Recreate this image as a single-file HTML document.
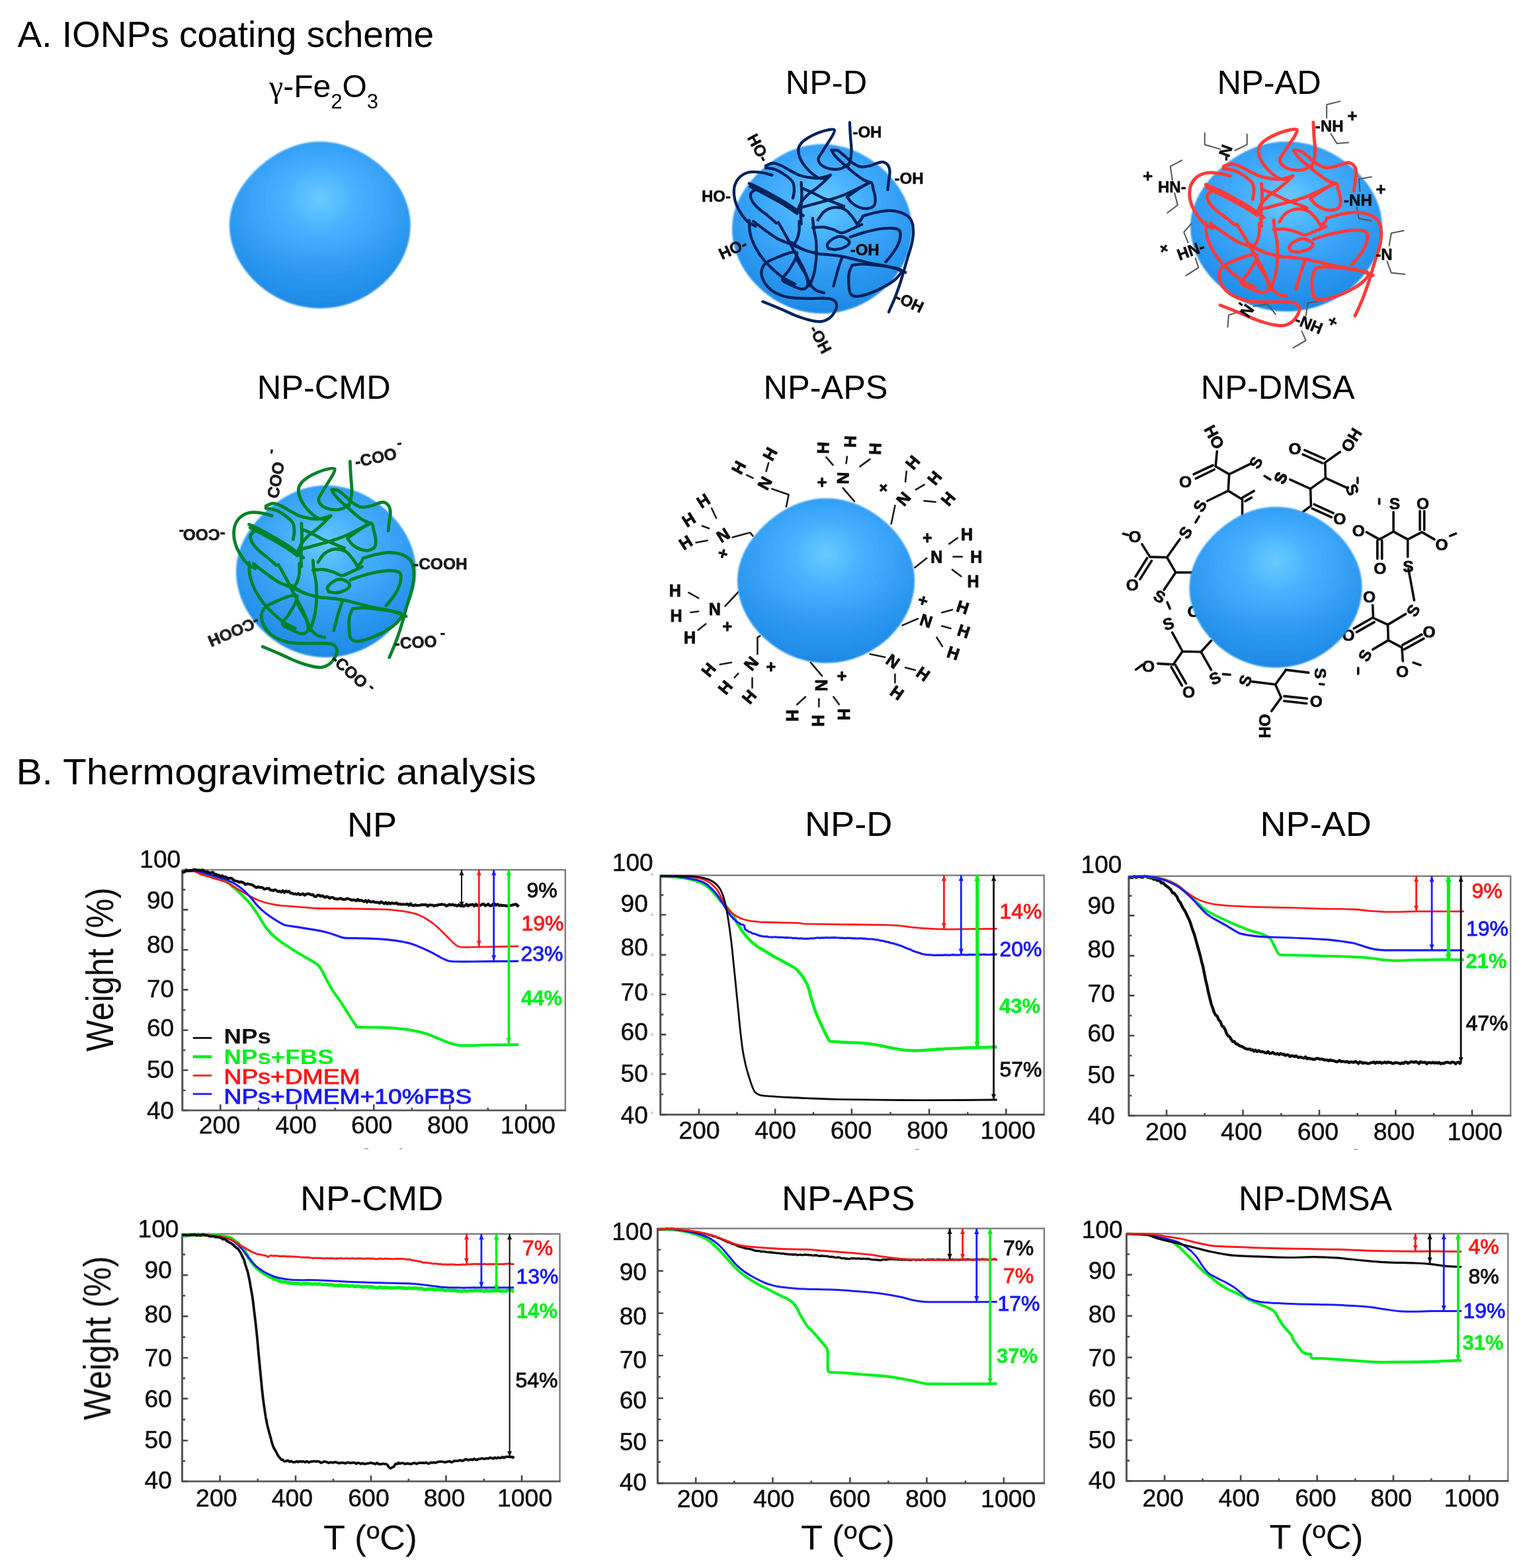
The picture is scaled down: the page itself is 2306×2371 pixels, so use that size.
<!DOCTYPE html>
<html lang="en"><head><meta charset="utf-8"><title>IONPs coating scheme and thermogravimetric analysis</title>
<style>html,body{margin:0;padding:0;background:#fff}svg{display:block}text{white-space:pre}</style></head><body>
<svg width="2306" height="2371" viewBox="0 0 2306 2371" font-family="'Liberation Sans', sans-serif">
<rect width="2306" height="2371" fill="#fff"/>
<defs>
<radialGradient id="sg" cx="0.5" cy="0.36" r="0.62" fx="0.5" fy="0.34">
<stop offset="0" stop-color="#6acbff"/><stop offset="0.28" stop-color="#4ab4ff"/><stop offset="0.6" stop-color="#38a3f8"/><stop offset="1" stop-color="#2390ea"/>
</radialGradient>
<linearGradient id="sl" x1="0" y1="0" x2="0" y2="1">
<stop offset="0" stop-color="#1f8fee" stop-opacity="0.3"/><stop offset="0.22" stop-color="#2a9cf5" stop-opacity="0"/><stop offset="0.55" stop-color="#1e86e0" stop-opacity="0"/><stop offset="0.75" stop-color="#1a84e2" stop-opacity="0.18"/><stop offset="1" stop-color="#1580dc" stop-opacity="0.32"/>
</linearGradient>
<filter id="b1" x="-10%" y="-10%" width="120%" height="120%"><feGaussianBlur stdDeviation="0.8"/></filter>
<filter id="b2" x="-15%" y="-30%" width="130%" height="160%"><feGaussianBlur stdDeviation="0.6"/></filter>
</defs>
<g fill="#000" font-family="'Liberation Sans', sans-serif">
<text x="26.5" y="70.6" font-size="55">A. IONPs coating scheme</text>
<text x="407" y="147" font-size="48"><tspan font-family="'Liberation Serif', serif">γ</tspan>-Fe<tspan font-size="31" dy="16.5">2</tspan><tspan dy="-16.5">O</tspan><tspan font-size="31" dy="16.5">3</tspan></text>
<text x="1187.7" y="142" font-size="50.5">NP-D</text>
<text x="1840.5" y="142" font-size="50.5">NP-AD</text>
<text x="388.8" y="603" font-size="50.5">NP-CMD</text>
<text x="1154.5" y="603" font-size="50.5">NP-APS</text>
<text x="1815.8" y="603" font-size="50.5">NP-DMSA</text>
</g>
<g filter="url(#b1)"><path d="M620.7 340.3L620.4 348.5L619.4 356.7L617.9 364.8L615.7 372.8L613 380.7L609.6 388.3L605.8 395.7L601.5 402.8L596.7 409.7L591.4 416.3L585.7 422.6L579.6 428.5L573.2 434.1L566.4 439.3L559.2 444.2L551.7 448.6L544 452.6L535.9 456.1L527.6 459.2L519.1 461.7L510.5 463.7L501.7 465.1L492.8 466L483.8 466.3L474.8 466L465.9 465.1L457.1 463.6L448.5 461.6L440 459L431.8 455.9L423.8 452.3L416.1 448.3L408.7 443.8L401.5 439L394.8 433.7L388.4 428.1L382.3 422.2L376.6 416L371.3 409.5L366.5 402.6L362.1 395.5L358.2 388.2L354.8 380.6L352 372.8L349.8 364.8L348.2 356.7L347.2 348.5L346.9 340.3L347.3 332.1L348.4 323.9L350.2 315.8L352.6 307.9L355.7 300.3L359.3 292.9L363.5 285.7L368.1 278.8L373.1 272.2L378.4 265.9L384.1 259.8L390.1 254.1L396.4 248.5L402.9 243.3L409.8 238.4L417 233.8L424.5 229.6L432.2 225.8L440.3 222.4L448.7 219.6L457.2 217.3L466 215.6L474.9 214.6L483.8 214.3L492.8 214.6L501.6 215.6L510.4 217.1L519 219.3L527.4 222L535.6 225.2L543.5 228.9L551.1 233L558.4 237.5L565.4 242.4L572.1 247.6L578.5 253.2L584.5 259L590.2 265.2L595.5 271.6L600.4 278.3L604.9 285.3L608.9 292.6L612.4 300.1L615.3 307.9L617.6 315.8L619.3 323.9L620.4 332.1Z" fill="url(#sg)"/><path d="M620.7 340.3L620.4 348.5L619.4 356.7L617.9 364.8L615.7 372.8L613 380.7L609.6 388.3L605.8 395.7L601.5 402.8L596.7 409.7L591.4 416.3L585.7 422.6L579.6 428.5L573.2 434.1L566.4 439.3L559.2 444.2L551.7 448.6L544 452.6L535.9 456.1L527.6 459.2L519.1 461.7L510.5 463.7L501.7 465.1L492.8 466L483.8 466.3L474.8 466L465.9 465.1L457.1 463.6L448.5 461.6L440 459L431.8 455.9L423.8 452.3L416.1 448.3L408.7 443.8L401.5 439L394.8 433.7L388.4 428.1L382.3 422.2L376.6 416L371.3 409.5L366.5 402.6L362.1 395.5L358.2 388.2L354.8 380.6L352 372.8L349.8 364.8L348.2 356.7L347.2 348.5L346.9 340.3L347.3 332.1L348.4 323.9L350.2 315.8L352.6 307.9L355.7 300.3L359.3 292.9L363.5 285.7L368.1 278.8L373.1 272.2L378.4 265.9L384.1 259.8L390.1 254.1L396.4 248.5L402.9 243.3L409.8 238.4L417 233.8L424.5 229.6L432.2 225.8L440.3 222.4L448.7 219.6L457.2 217.3L466 215.6L474.9 214.6L483.8 214.3L492.8 214.6L501.6 215.6L510.4 217.1L519 219.3L527.4 222L535.6 225.2L543.5 228.9L551.1 233L558.4 237.5L565.4 242.4L572.1 247.6L578.5 253.2L584.5 259L590.2 265.2L595.5 271.6L600.4 278.3L604.9 285.3L608.9 292.6L612.4 300.1L615.3 307.9L617.6 315.8L619.3 323.9L620.4 332.1Z" fill="url(#sl)"/></g>
<g filter="url(#b1)"><path d="M1379 346L1378.7 354.4L1377.7 362.7L1376.2 370.9L1374 379L1371.3 387L1368 394.7L1364.2 402.3L1359.9 409.5L1355.1 416.5L1349.9 423.2L1344.2 429.6L1338.2 435.6L1331.8 441.3L1325 446.6L1317.9 451.5L1310.5 456L1302.8 460.1L1294.8 463.7L1286.6 466.8L1278.1 469.3L1269.5 471.4L1260.7 472.8L1251.9 473.7L1243 474L1234.1 473.7L1225.3 472.8L1216.5 471.3L1207.9 469.2L1199.5 466.6L1191.3 463.4L1183.4 459.8L1175.7 455.7L1168.3 451.2L1161.3 446.2L1154.6 440.9L1148.2 435.2L1142.2 429.2L1136.5 422.9L1131.3 416.3L1126.5 409.3L1122.1 402.1L1118.2 394.6L1114.9 386.9L1112.1 379L1109.9 370.9L1108.3 362.7L1107.3 354.4L1107 346L1107.4 337.6L1108.5 329.3L1110.2 321.1L1112.7 313.1L1115.7 305.3L1119.4 297.8L1123.5 290.5L1128 283.5L1133 276.8L1138.3 270.4L1144 264.3L1149.9 258.4L1156.1 252.8L1162.7 247.5L1169.5 242.5L1176.6 237.8L1184.1 233.5L1191.8 229.6L1199.8 226.2L1208.1 223.4L1216.6 221L1225.3 219.4L1234.1 218.3L1243 218L1251.9 218.3L1260.7 219.3L1269.4 220.9L1278 223L1286.4 225.8L1294.5 229L1302.3 232.8L1309.9 237L1317.1 241.6L1324.1 246.5L1330.7 251.8L1337.1 257.5L1343 263.4L1348.7 269.7L1354 276.2L1358.8 283.1L1363.3 290.2L1367.3 297.6L1370.7 305.2L1373.6 313.1L1376 321.1L1377.6 329.3L1378.7 337.6Z" fill="url(#sg)"/><path d="M1379 346L1378.7 354.4L1377.7 362.7L1376.2 370.9L1374 379L1371.3 387L1368 394.7L1364.2 402.3L1359.9 409.5L1355.1 416.5L1349.9 423.2L1344.2 429.6L1338.2 435.6L1331.8 441.3L1325 446.6L1317.9 451.5L1310.5 456L1302.8 460.1L1294.8 463.7L1286.6 466.8L1278.1 469.3L1269.5 471.4L1260.7 472.8L1251.9 473.7L1243 474L1234.1 473.7L1225.3 472.8L1216.5 471.3L1207.9 469.2L1199.5 466.6L1191.3 463.4L1183.4 459.8L1175.7 455.7L1168.3 451.2L1161.3 446.2L1154.6 440.9L1148.2 435.2L1142.2 429.2L1136.5 422.9L1131.3 416.3L1126.5 409.3L1122.1 402.1L1118.2 394.6L1114.9 386.9L1112.1 379L1109.9 370.9L1108.3 362.7L1107.3 354.4L1107 346L1107.4 337.6L1108.5 329.3L1110.2 321.1L1112.7 313.1L1115.7 305.3L1119.4 297.8L1123.5 290.5L1128 283.5L1133 276.8L1138.3 270.4L1144 264.3L1149.9 258.4L1156.1 252.8L1162.7 247.5L1169.5 242.5L1176.6 237.8L1184.1 233.5L1191.8 229.6L1199.8 226.2L1208.1 223.4L1216.6 221L1225.3 219.4L1234.1 218.3L1243 218L1251.9 218.3L1260.7 219.3L1269.4 220.9L1278 223L1286.4 225.8L1294.5 229L1302.3 232.8L1309.9 237L1317.1 241.6L1324.1 246.5L1330.7 251.8L1337.1 257.5L1343 263.4L1348.7 269.7L1354 276.2L1358.8 283.1L1363.3 290.2L1367.3 297.6L1370.7 305.2L1373.6 313.1L1376 321.1L1377.6 329.3L1378.7 337.6Z" fill="url(#sl)"/></g>
<g filter="url(#b1)"><path d="M2090 342.5L2089.7 350.9L2088.7 359.3L2087 367.5L2084.7 375.7L2081.8 383.7L2078.3 391.4L2074.2 399L2069.6 406.3L2064.5 413.3L2059 420L2052.9 426.4L2046.5 432.5L2039.7 438.2L2032.4 443.5L2024.9 448.4L2017 452.9L2008.7 457L2000.2 460.6L1991.4 463.7L1982.4 466.3L1973.2 468.3L1963.9 469.8L1954.5 470.7L1945 471L1935.5 470.7L1926.1 469.8L1916.8 468.3L1907.6 466.2L1898.6 463.5L1889.9 460.4L1881.4 456.7L1873.3 452.6L1865.4 448.1L1857.9 443.1L1850.7 437.8L1843.9 432.1L1837.5 426.1L1831.5 419.7L1825.9 413L1820.7 406.1L1816.1 398.8L1812 391.3L1808.4 383.6L1805.4 375.6L1803.1 367.5L1801.4 359.3L1800.3 350.9L1800 342.5L1800.4 334.1L1801.5 325.8L1803.5 317.5L1806.1 309.5L1809.3 301.7L1813.2 294.1L1817.6 286.8L1822.4 279.8L1827.7 273.1L1833.4 266.6L1839.4 260.4L1845.8 254.5L1852.4 248.9L1859.4 243.6L1866.6 238.6L1874.2 233.9L1882.2 229.6L1890.4 225.7L1898.9 222.3L1907.8 219.4L1916.8 217.1L1926.1 215.4L1935.5 214.3L1945 214L1954.5 214.3L1963.9 215.3L1973.2 216.9L1982.3 219.1L1991.2 221.8L1999.9 225.1L2008.2 228.8L2016.3 233.1L2024 237.7L2031.5 242.6L2038.5 248L2045.3 253.6L2051.7 259.6L2057.7 265.9L2063.3 272.4L2068.5 279.3L2073.2 286.5L2077.5 293.9L2081.2 301.5L2084.3 309.4L2086.8 317.5L2088.5 325.8L2089.6 334.1Z" fill="url(#sg)"/><path d="M2090 342.5L2089.7 350.9L2088.7 359.3L2087 367.5L2084.7 375.7L2081.8 383.7L2078.3 391.4L2074.2 399L2069.6 406.3L2064.5 413.3L2059 420L2052.9 426.4L2046.5 432.5L2039.7 438.2L2032.4 443.5L2024.9 448.4L2017 452.9L2008.7 457L2000.2 460.6L1991.4 463.7L1982.4 466.3L1973.2 468.3L1963.9 469.8L1954.5 470.7L1945 471L1935.5 470.7L1926.1 469.8L1916.8 468.3L1907.6 466.2L1898.6 463.5L1889.9 460.4L1881.4 456.7L1873.3 452.6L1865.4 448.1L1857.9 443.1L1850.7 437.8L1843.9 432.1L1837.5 426.1L1831.5 419.7L1825.9 413L1820.7 406.1L1816.1 398.8L1812 391.3L1808.4 383.6L1805.4 375.6L1803.1 367.5L1801.4 359.3L1800.3 350.9L1800 342.5L1800.4 334.1L1801.5 325.8L1803.5 317.5L1806.1 309.5L1809.3 301.7L1813.2 294.1L1817.6 286.8L1822.4 279.8L1827.7 273.1L1833.4 266.6L1839.4 260.4L1845.8 254.5L1852.4 248.9L1859.4 243.6L1866.6 238.6L1874.2 233.9L1882.2 229.6L1890.4 225.7L1898.9 222.3L1907.8 219.4L1916.8 217.1L1926.1 215.4L1935.5 214.3L1945 214L1954.5 214.3L1963.9 215.3L1973.2 216.9L1982.3 219.1L1991.2 221.8L1999.9 225.1L2008.2 228.8L2016.3 233.1L2024 237.7L2031.5 242.6L2038.5 248L2045.3 253.6L2051.7 259.6L2057.7 265.9L2063.3 272.4L2068.5 279.3L2073.2 286.5L2077.5 293.9L2081.2 301.5L2084.3 309.4L2086.8 317.5L2088.5 325.8L2089.6 334.1Z" fill="url(#sl)"/></g>
<g filter="url(#b1)"><path d="M629 864L628.7 872.5L627.7 881L626.2 889.3L624 897.6L621.3 905.6L618 913.5L614.2 921.1L609.9 928.5L605.1 935.6L599.9 942.4L594.2 948.9L588.2 955L581.8 960.8L575 966.2L567.9 971.2L560.5 975.7L552.8 979.9L544.8 983.5L536.6 986.6L528.1 989.3L519.5 991.3L510.7 992.8L501.9 993.7L493 994L484.1 993.7L475.3 992.8L466.5 991.2L457.9 989.1L449.5 986.5L441.3 983.3L433.4 979.6L425.7 975.4L418.3 970.8L411.3 965.8L404.6 960.4L398.2 954.6L392.2 948.5L386.5 942.1L381.3 935.4L376.5 928.3L372.1 921L368.2 913.4L364.9 905.6L362.1 897.5L359.9 889.3L358.3 881L357.3 872.5L357 864L357.4 855.5L358.5 847.1L360.2 838.8L362.7 830.6L365.7 822.7L369.4 815L373.5 807.7L378 800.6L383 793.7L388.3 787.2L394 781L399.9 775L406.1 769.3L412.7 763.9L419.5 758.9L426.6 754.1L434.1 749.8L441.8 745.8L449.8 742.4L458.1 739.4L466.6 737.1L475.3 735.4L484.1 734.3L493 734L501.9 734.3L510.7 735.3L519.4 736.9L528 739.1L536.4 741.9L544.5 745.2L552.3 749L559.9 753.3L567.1 757.9L574.1 763L580.7 768.4L587.1 774.1L593 780.1L598.7 786.5L604 793.1L608.8 800.1L613.3 807.3L617.3 814.8L620.7 822.6L623.6 830.5L626 838.7L627.6 847.1L628.7 855.5Z" fill="url(#sg)"/><path d="M629 864L628.7 872.5L627.7 881L626.2 889.3L624 897.6L621.3 905.6L618 913.5L614.2 921.1L609.9 928.5L605.1 935.6L599.9 942.4L594.2 948.9L588.2 955L581.8 960.8L575 966.2L567.9 971.2L560.5 975.7L552.8 979.9L544.8 983.5L536.6 986.6L528.1 989.3L519.5 991.3L510.7 992.8L501.9 993.7L493 994L484.1 993.7L475.3 992.8L466.5 991.2L457.9 989.1L449.5 986.5L441.3 983.3L433.4 979.6L425.7 975.4L418.3 970.8L411.3 965.8L404.6 960.4L398.2 954.6L392.2 948.5L386.5 942.1L381.3 935.4L376.5 928.3L372.1 921L368.2 913.4L364.9 905.6L362.1 897.5L359.9 889.3L358.3 881L357.3 872.5L357 864L357.4 855.5L358.5 847.1L360.2 838.8L362.7 830.6L365.7 822.7L369.4 815L373.5 807.7L378 800.6L383 793.7L388.3 787.2L394 781L399.9 775L406.1 769.3L412.7 763.9L419.5 758.9L426.6 754.1L434.1 749.8L441.8 745.8L449.8 742.4L458.1 739.4L466.6 737.1L475.3 735.4L484.1 734.3L493 734L501.9 734.3L510.7 735.3L519.4 736.9L528 739.1L536.4 741.9L544.5 745.2L552.3 749L559.9 753.3L567.1 757.9L574.1 763L580.7 768.4L587.1 774.1L593 780.1L598.7 786.5L604 793.1L608.8 800.1L613.3 807.3L617.3 814.8L620.7 822.6L623.6 830.5L626 838.7L627.6 847.1L628.7 855.5Z" fill="url(#sl)"/></g>
<g fill="none" stroke="#06235c" stroke-width="4.3" stroke-linecap="round" stroke-linejoin="round" filter="url(#b2)">
<path d="M1284.9 185.2C1285 188.8 1285.5 199.6 1286 206.5C1286.4 213.5 1287.5 221.2 1287.5 227C1287.5 232.8 1286.8 237.1 1286 241.2C1285.1 245.2 1283.1 249.7 1282.5 251.4"/>
<path d="M1280.9 249.1C1279.6 250 1276.2 253.4 1273 254.6C1269.9 255.8 1266 256.3 1262 256.1C1258.1 256 1253.1 255.2 1249.4 253.8C1245.7 252.3 1241.9 249.8 1240 247.5C1238 245.1 1237.1 242.5 1237.6 239.6C1238.1 236.7 1240.9 233.8 1243.1 230.1C1245.3 226.5 1248.4 221.7 1251 217.5C1253.6 213.3 1257.1 208.5 1258.9 204.9C1260.7 201.4 1262.8 197.7 1261.7 196.3C1260.7 194.8 1256.7 195.5 1252.6 196.3C1248.4 197.1 1242.1 198.9 1236.8 201C1231.6 203.1 1225.4 206.1 1221.1 208.9C1216.7 211.6 1213.1 214.5 1210.8 217.5C1208.5 220.6 1207.3 223.3 1207.2 227C1207.1 230.7 1208.2 235.4 1210 239.6C1211.8 243.8 1214.7 248.3 1217.9 252.2C1221.1 256.1 1225.3 260.3 1228.9 263.2C1232.6 266.1 1236.5 268.6 1240 269.5C1243.4 270.5 1246.8 269.5 1249.4 268.8C1252 268 1254.7 265.5 1255.7 264.8"/>
<path d="M1257.3 227C1258.9 227.1 1263.6 226.5 1266.7 227.8C1269.9 229.1 1272.5 231.9 1276.2 234.9C1279.9 237.9 1284.6 243 1288.8 245.9C1293 248.8 1296.9 251.4 1301.4 252.2C1305.9 253 1311.4 251.5 1315.6 250.6C1319.8 249.7 1323.2 247.6 1326.6 246.7C1330 245.8 1333.3 244.5 1336.1 245.1C1338.8 245.8 1341.6 248.1 1343.2 250.6C1344.7 253.1 1345.4 256.4 1345.5 260.1C1345.7 263.8 1344.5 268.2 1343.9 272.7C1343.4 277.2 1342.6 284.5 1342.4 286.9"/>
<path d="M1257.3 227C1258.1 228.3 1259.7 232 1262 234.9C1264.4 237.8 1268.1 241.2 1271.5 244.3C1274.9 247.5 1278.8 250.6 1282.5 253.8C1286.2 256.9 1289.9 260.3 1293.5 263.2C1297.2 266.1 1300.9 269 1304.6 271.1C1308.2 273.2 1313.8 275.1 1315.6 275.8"/>
<path d="M1158 250.6C1159.9 250 1165.1 246.7 1169.1 246.7C1173 246.7 1177.2 248.7 1181.7 250.6C1186.1 252.6 1191.4 256.1 1195.8 258.5C1200.3 260.9 1204.2 263.2 1208.4 264.8C1212.6 266.4 1216.3 267.2 1221.1 268C1225.8 268.8 1231.3 269.9 1236.8 269.5C1242.3 269.1 1251.2 266.3 1254.1 265.6"/>
<path d="M1158 253.8C1160.7 254.3 1168.5 254.8 1173.8 256.9C1179 259 1185.3 263.2 1189.5 266.4C1193.7 269.5 1197.1 272.2 1199 275.8C1200.9 279.5 1200.9 284.5 1200.9 288.4C1200.9 292.4 1199.3 297.6 1199 299.5"/>
<path d="M1167.5 264.8C1164.9 264.2 1157.2 261.7 1151.7 260.9C1146.2 260.1 1139.6 259.2 1134.4 260.1C1129.1 261 1124 263.2 1120.2 266.4C1116.4 269.5 1113.3 274.3 1111.5 279C1109.8 283.7 1109.6 289.5 1110 294.7C1110.4 300 1111.9 305.5 1113.9 310.5C1115.9 315.5 1118.9 320.5 1121.8 324.7C1124.7 328.9 1127.8 332.8 1131.2 335.7C1134.7 338.6 1140.4 341 1142.3 342"/>
<path d="M1132.8 277.4C1135.7 278.7 1143.8 282.1 1150.1 285.3C1156.4 288.4 1164.1 292.6 1170.6 296.3C1177.2 300 1183.8 303.7 1189.5 307.4C1195.3 311 1201.1 315.2 1205.3 318.4C1209.5 321.5 1213.2 324.9 1214.7 326.3"/>
<path d="M1134.4 282.1C1137.3 283.6 1145.7 287.7 1151.7 290.8C1157.8 294 1164.3 297.5 1170.6 301.1C1176.9 304.6 1183.8 308.4 1189.5 312.1C1195.3 315.8 1202.7 321.3 1205.3 323.1"/>
<path d="M1154.9 291.6C1153 290.8 1147.1 286.6 1143.8 286.9C1140.6 287.1 1136.2 290.3 1135.2 293.2C1134.1 296.1 1135.6 300.5 1137.5 304.2C1139.5 307.9 1143.1 311.6 1147 315.2C1150.9 318.9 1156.7 322.6 1161.2 326.3C1165.6 329.9 1171.7 335.5 1173.8 337.3"/>
<path d="M1255.7 264.8C1253.9 266.6 1248.4 272.4 1244.7 275.8C1241 279.3 1237.6 282.1 1233.7 285.3C1229.7 288.4 1224.7 291.3 1221.1 294.7C1217.4 298.2 1214.2 301.6 1211.6 305.8C1209 310 1206.3 317.6 1205.3 320"/>
<path d="M1315.6 275.8C1313 277.2 1306.4 280.6 1299.8 283.7C1293.3 286.9 1284.1 291.6 1276.2 294.7C1268.3 297.9 1260.4 300.3 1252.6 302.6C1244.7 305 1235.8 307.1 1228.9 308.9C1222.1 310.8 1214.5 312.9 1211.6 313.7"/>
<path d="M1211.6 275.8C1211.7 278.7 1212.4 287.7 1212.4 293.2C1212.4 298.7 1211.9 303.7 1211.6 308.9C1211.3 314.2 1210.8 319.7 1210.8 324.7C1210.8 329.7 1211.5 336.5 1211.6 338.9"/>
<path d="M1214.7 285.3C1217.1 286.3 1223.9 289.2 1228.9 291.6C1233.9 294 1239.4 297.1 1244.7 299.5C1249.9 301.8 1255.2 303.7 1260.4 305.8C1265.7 307.9 1273.6 311 1276.2 312.1"/>
<path d="M1280.9 297.9C1282.8 296.6 1287.8 292.9 1292 290C1296.2 287.1 1301.9 282.9 1306.1 280.6C1310.3 278.2 1314.8 275.1 1317.2 275.8C1319.5 276.6 1319.3 281.4 1320.3 285.3C1321.4 289.2 1323.2 295.3 1323.5 299.5C1323.7 303.7 1323.7 307.9 1321.9 310.5C1320.1 313.1 1316.1 314.7 1312.4 315.2C1308.8 315.8 1303.8 315 1299.8 313.7C1295.9 312.3 1292 310 1288.8 307.4C1285.7 304.7 1282.2 299.5 1280.9 297.9"/>
<path d="M1236.8 332.6C1238.4 330.5 1242.1 323.1 1246.3 320C1250.5 316.8 1256.8 314.2 1262 313.7C1267.3 313.1 1273.3 314.4 1277.8 316.8C1282.2 319.2 1285.8 324.2 1288.8 327.8C1291.8 331.5 1294.7 337 1295.9 338.9"/>
<path d="M1306.1 326.3C1309 325.5 1317.2 322.8 1323.5 321.5C1329.8 320.2 1337.4 318.4 1343.9 318.4C1350.5 318.4 1357.6 319.7 1362.9 321.5C1368.1 323.4 1372.6 326.4 1375.5 329.4C1378.4 332.4 1379.4 337.9 1380.2 339.7"/>
<path d="M1380.2 339.5C1380.3 341.8 1381.2 348.6 1381 353.6C1380.7 358.6 1379.8 364.1 1378.6 369.4C1377.4 374.6 1375.5 379.9 1373.9 385.1C1372.3 390.4 1370.5 396.4 1369.2 400.9C1367.8 405.4 1367.3 407.5 1366 411.9C1364.7 416.4 1363.4 421.4 1361.3 427.7C1359.2 434 1356.3 442.4 1353.4 449.7C1350.5 457.1 1345.5 468.1 1343.9 471.8"/>
<path d="M1285.7 358.4C1288.8 357.3 1297.5 354 1304.6 352.1C1311.6 350.1 1321.1 347.7 1328.2 346.5C1335.3 345.4 1341.8 344.7 1347.1 345C1352.4 345.2 1357.3 345.9 1359.7 348.1C1362.1 350.4 1361.8 354.3 1361.3 358.4C1360.8 362.4 1358.9 367.8 1356.6 372.5C1354.2 377.3 1350 382.8 1347.1 386.7C1344.2 390.7 1340.5 394.6 1339.2 396.2"/>
<path d="M1228.9 344.2C1231.6 344 1239.4 342.9 1244.7 343.4C1249.9 343.9 1255.7 345.9 1260.4 347.3C1265.2 348.8 1268.3 352.3 1273 352.1C1277.8 351.8 1283.8 347.9 1288.8 345.8C1293.8 343.7 1300.6 340.5 1303 339.5"/>
<path d="M1295.9 338.7C1296.8 337.7 1300 335.1 1301.4 333.2C1302.9 331.2 1304 327.9 1304.6 326.8"/>
<path d="M1252.6 375.7C1252.3 374.6 1249.9 371.8 1251 369.4C1252 367 1255.7 363.5 1258.9 361.5C1262 359.5 1266.2 357.6 1269.9 357.6C1273.6 357.6 1278.6 359.8 1280.9 361.5C1283.3 363.2 1284.9 365.7 1284.1 367.8C1283.3 369.9 1279.6 372.5 1276.2 374.1C1272.8 375.7 1267.5 377 1263.6 377.3C1259.7 377.5 1254.4 376 1252.6 375.7"/>
<path d="M1195.8 366.2C1199 368.1 1207.9 374.4 1214.7 377.3C1221.6 380.2 1230.5 382.3 1236.8 383.6C1243.1 384.9 1246 384.4 1252.6 385.1C1259.1 385.9 1265.7 386.2 1276.2 388.3C1286.7 390.4 1303.8 395.1 1315.6 397.8C1327.4 400.4 1338.2 401.7 1347.1 404.1C1356 406.4 1365.5 410.6 1369.2 411.9"/>
<path d="M1273 389.9C1272 393 1268.8 401.7 1266.7 408.8C1264.6 415.9 1261.5 428.5 1260.4 432.4"/>
<path d="M1288.8 400.9C1291.4 400.6 1298.8 399.3 1304.6 399.3C1310.3 399.3 1316.4 400.1 1323.5 400.9C1330.6 401.7 1340.5 402.7 1347.1 404.1C1353.7 405.4 1361.5 405.9 1362.9 408.8C1364.2 411.7 1358.9 417.4 1355 421.4C1351 425.3 1345.8 428.7 1339.2 432.4C1332.7 436.1 1322.9 440.8 1315.6 443.4C1308.2 446.1 1300.1 448.2 1295.1 448.2C1290.1 448.2 1287.6 446.9 1285.7 443.4C1283.7 440 1283.6 432.9 1283.3 427.7C1283 422.4 1283.2 416.4 1284.1 411.9C1285 407.5 1288 402.7 1288.8 400.9"/>
<path d="M1228.9 330C1229.2 332.6 1229.7 340.5 1230.5 345.8C1231.3 351 1233 356.3 1233.7 361.5C1234.3 366.8 1234.4 371.5 1234.4 377.3C1234.4 383 1234.3 389.9 1233.7 396.2C1233 402.5 1232.1 409 1230.5 415.1C1228.9 421.1 1225.3 429.5 1224.2 432.4"/>
<path d="M1132.8 333.2C1133.1 336.6 1132.8 346.8 1134.4 353.6C1136 360.5 1138.9 367.6 1142.3 374.1C1145.7 380.7 1150.1 387.2 1154.9 393C1159.6 398.8 1165.4 404.1 1170.6 408.8C1175.9 413.5 1181.1 418 1186.4 421.4C1191.6 424.8 1199.5 428 1202.1 429.3"/>
<path d="M1139.1 334.7C1142.3 337.1 1151.7 344.4 1158 348.9C1164.3 353.4 1170.6 358.1 1176.9 361.5C1183.2 364.9 1189.5 366.8 1195.8 369.4C1202.1 372 1211.6 376 1214.7 377.3"/>
<path d="M1176.9 336.3C1179 340 1185.3 350.7 1189.5 358.4C1193.7 366 1197.9 374.1 1202.1 382C1206.3 389.9 1211.1 398 1214.7 405.6C1218.4 413.2 1221.1 422.2 1224.2 427.7C1227.4 433.2 1230 436.2 1233.7 438.7C1237.3 441.2 1244.2 442 1246.3 442.7"/>
<path d="M1202.1 380.4C1200 380.9 1194.3 382 1189.5 383.6C1184.8 385.1 1179 387.5 1173.8 389.9C1168.5 392.2 1161.7 394.6 1158 397.8C1154.3 400.9 1152.5 404.8 1151.7 408.8C1150.9 412.7 1151.7 417.2 1153.3 421.4C1154.9 425.6 1157.8 430.3 1161.2 434C1164.6 437.7 1168.5 440.8 1173.8 443.4C1179 446.1 1184.8 448.4 1192.7 449.7C1200.6 451.1 1212.4 451.1 1221.1 451.3C1229.7 451.5 1238.4 450.7 1244.7 451C1251 451.3 1255.5 451.3 1258.9 452.9C1262.3 454.5 1264.6 457.6 1265.2 460.8C1265.7 463.9 1263.9 468.4 1262 471.8C1260.2 475.2 1257.3 478.9 1254.1 481.3C1251 483.6 1247.3 485.3 1243.1 486C1238.9 486.6 1235.2 486.5 1228.9 485.2C1222.6 483.9 1213.4 481.1 1205.3 478.1C1197.2 475.1 1188.8 470.8 1180.1 467.1C1171.4 463.4 1157.8 457.9 1153.3 456.1"/>
<path d="M1205.3 382C1204.8 383.8 1204.2 388.6 1202.1 393C1200 397.5 1195.8 403.8 1192.7 408.8C1189.5 413.8 1182.7 419.3 1183.2 423C1183.8 426.6 1191.1 428.5 1195.8 430.8C1200.6 433.2 1207.4 436.9 1211.6 437.1C1215.8 437.4 1219.7 435.6 1221.1 432.4C1222.4 429.3 1221.1 423 1219.5 418.2C1217.9 413.5 1214.2 408.8 1211.6 404.1C1209 399.3 1205 392.2 1203.7 389.9"/>
<path d="M1208.4 334.7C1208.4 337.1 1209 344.4 1208.4 348.9C1207.9 353.4 1206.9 357.8 1205.3 361.5C1203.7 365.2 1200 369.4 1199 371"/>
</g>
<g filter="url(#b2)" stroke="#111" stroke-width="0.6" stroke-linejoin="round">
<text transform="translate(1311.4 199.7)" font-size="24" font-weight="bold" text-anchor="middle" fill="#0a0a0a" dy="0.35em">-OH</text>
<text transform="translate(1374.5 269.1)" font-size="24" font-weight="bold" text-anchor="middle" fill="#0a0a0a" dy="0.35em">-OH</text>
<text transform="translate(1307.7 377.8)" font-size="24" font-weight="bold" text-anchor="middle" fill="#0a0a0a" dy="0.35em">-OH</text>
<text transform="translate(1375.4 456.6) rotate(25)" font-size="24" font-weight="bold" text-anchor="middle" fill="#0a0a0a" dy="0.35em">-OH</text>
<text transform="translate(1239.9 513.3) rotate(62)" font-size="24" font-weight="bold" text-anchor="middle" fill="#0a0a0a" dy="0.35em">-OH</text>
<text transform="translate(1083 296.8)" font-size="24" font-weight="bold" text-anchor="middle" fill="#0a0a0a" dy="0.35em">HO-</text>
<text transform="translate(1147 223.4) rotate(62)" font-size="24" font-weight="bold" text-anchor="middle" fill="#0a0a0a" dy="0.35em">HO-</text>
<text transform="translate(1108.2 376.2) rotate(-25)" font-size="24" font-weight="bold" text-anchor="middle" fill="#0a0a0a" dy="0.35em">HO-</text>
</g>
<g filter="url(#b2)">
<path d="M2006.1 178.3L2006.1 158.2L2026.6 153.1" fill="none" stroke="#555" stroke-width="2" stroke-linejoin="round" stroke-linecap="round"/>
<path d="M2012.4 202.3L2021.8 217.1L2039.2 215.5" fill="none" stroke="#555" stroke-width="2" stroke-linejoin="round" stroke-linecap="round"/>
<path d="M1821.7 201.3L1821.7 218.7L1845.4 225.6" fill="none" stroke="#555" stroke-width="2" stroke-linejoin="round" stroke-linecap="round"/>
<path d="M1885.7 202.9L1885.7 218.7L1867.4 227.5" fill="none" stroke="#555" stroke-width="2" stroke-linejoin="round" stroke-linecap="round"/>
<path d="M1787.1 242.3L1769.7 251.7L1772.9 272.2" fill="none" stroke="#555" stroke-width="2" stroke-linejoin="round" stroke-linecap="round"/>
<path d="M1776.1 291.8L1780.8 310L1765 322" fill="none" stroke="#555" stroke-width="2" stroke-linejoin="round" stroke-linecap="round"/>
<path d="M1801.3 338.4L1790.2 351L1796.5 366.8" fill="none" stroke="#555" stroke-width="2" stroke-linejoin="round" stroke-linecap="round"/>
<path d="M1807.6 390.4L1812.3 404.6L1793.4 416.6" fill="none" stroke="#555" stroke-width="2" stroke-linejoin="round" stroke-linecap="round"/>
<path d="M1856.4 494.4L1858 476.4L1875.3 470.8" fill="none" stroke="#555" stroke-width="2" stroke-linejoin="round" stroke-linecap="round"/>
<path d="M1895.8 462.9L1916.3 459.7L1928.9 475.5" fill="none" stroke="#555" stroke-width="2" stroke-linejoin="round" stroke-linecap="round"/>
<path d="M1974.6 477.7L1977.7 458.2L1998.2 455" fill="none" stroke="#555" stroke-width="2" stroke-linejoin="round" stroke-linecap="round"/>
<path d="M1968.3 500.7L1974.6 514.9L1955.7 525.9" fill="none" stroke="#555" stroke-width="2" stroke-linejoin="round" stroke-linecap="round"/>
<path d="M2100.6 371.5L2103.8 352.6L2122.7 348.8" fill="none" stroke="#555" stroke-width="2" stroke-linejoin="round" stroke-linecap="round"/>
<path d="M2097.5 395.1L2103.8 412.5L2124.3 414.7" fill="none" stroke="#555" stroke-width="2" stroke-linejoin="round" stroke-linecap="round"/>
<path d="M2056.5 289.6L2054.9 270.7L2073.8 267.5" fill="none" stroke="#555" stroke-width="2" stroke-linejoin="round" stroke-linecap="round"/>
<path d="M2051.8 313.8L2054.9 330.5L2073.8 333.7" fill="none" stroke="#555" stroke-width="2" stroke-linejoin="round" stroke-linecap="round"/>
</g>
<g fill="none" stroke="#ff3b3b" stroke-width="5" stroke-linecap="round" stroke-linejoin="round" filter="url(#b2)">
<path d="M1985.9 185C1986.1 188.6 1986.6 199.6 1987 206.7C1987.5 213.8 1988.7 221.7 1988.7 227.6C1988.7 233.5 1987.9 237.9 1987 242.1C1986.1 246.2 1984 250.8 1983.3 252.5"/>
<path d="M1981.6 250.1C1980.2 251.1 1976.6 254.5 1973.2 255.8C1969.9 257 1965.6 257.5 1961.4 257.4C1957.2 257.2 1951.9 256.4 1948 255C1944 253.5 1940 250.9 1937.9 248.5C1935.7 246.1 1934.8 243.4 1935.3 240.5C1935.9 237.5 1938.8 234.6 1941.2 230.8C1943.6 227.1 1946.8 222.2 1949.6 217.9C1952.5 213.7 1956.2 208.7 1958.1 205.1C1960 201.5 1962.2 197.7 1961.1 196.2C1960 194.7 1955.8 195.4 1951.3 196.2C1946.9 197 1940.1 198.9 1934.5 201.1C1928.9 203.2 1922.3 206.3 1917.6 209.1C1913 211.9 1909.2 214.9 1906.7 217.9C1904.2 221 1903 223.8 1902.8 227.6C1902.7 231.4 1903.9 236.2 1905.8 240.5C1907.8 244.8 1910.9 249.3 1914.3 253.3C1917.6 257.4 1922.1 261.7 1926.1 264.6C1930 267.6 1934.2 270.1 1937.9 271C1941.5 272 1945.2 271 1948 270.2C1950.8 269.4 1953.6 266.9 1954.7 266.2"/>
<path d="M1956.4 227.6C1958.1 227.7 1963.1 227.1 1966.5 228.4C1969.9 229.7 1972.7 232.6 1976.6 235.6C1980.5 238.7 1985.6 244 1990.1 246.9C1994.6 249.9 1998.8 252.5 2003.5 253.3C2008.3 254.1 2014.2 252.7 2018.7 251.7C2023.2 250.8 2026.8 248.6 2030.5 247.7C2034.1 246.8 2037.7 245.4 2040.6 246.1C2043.6 246.8 2046.5 249.2 2048.2 251.7C2049.9 254.3 2050.6 257.6 2050.7 261.4C2050.9 265.1 2049.6 269.7 2049 274.3C2048.5 278.8 2047.6 286.3 2047.3 288.7"/>
<path d="M1956.4 227.6C1957.2 228.9 1958.9 232.7 1961.4 235.6C1964 238.6 1967.9 242.1 1971.5 245.3C1975.2 248.5 1979.4 251.7 1983.3 255C1987.3 258.2 1991.2 261.7 1995.1 264.6C1999.1 267.6 2003 270.5 2006.9 272.7C2010.8 274.8 2016.7 276.7 2018.7 277.5"/>
<path d="M1850.3 251.7C1852.2 251.1 1857.8 247.7 1862 247.7C1866.3 247.7 1870.8 249.7 1875.5 251.7C1880.3 253.7 1885.9 257.4 1890.7 259.8C1895.5 262.2 1899.7 264.6 1904.2 266.2C1908.7 267.8 1912.6 268.6 1917.6 269.4C1922.7 270.2 1928.6 271.4 1934.5 271C1940.4 270.6 1949.9 267.7 1953 267"/>
<path d="M1850.3 255C1853.1 255.5 1861.5 256 1867.1 258.2C1872.7 260.3 1879.5 264.6 1883.9 267.8C1888.4 271 1892 273.7 1894.1 277.5C1896.1 281.2 1896.1 286.3 1896.1 290.3C1896.1 294.4 1894.4 299.7 1894.1 301.6"/>
<path d="M1860.4 266.2C1857.6 265.5 1849.4 263 1843.5 262.2C1837.6 261.4 1830.6 260.4 1825 261.4C1819.4 262.3 1813.9 264.6 1809.8 267.8C1805.8 271 1802.4 275.9 1800.6 280.7C1798.7 285.5 1798.5 291.4 1798.9 296.8C1799.3 302.1 1801 307.8 1803.1 312.9C1805.2 318 1808.4 323.1 1811.5 327.4C1814.6 331.6 1818 335.7 1821.6 338.6C1825.3 341.6 1831.4 344 1833.4 345.1"/>
<path d="M1823.3 279.1C1826.4 280.4 1835.1 283.9 1841.8 287.1C1848.6 290.3 1856.7 294.6 1863.7 298.4C1870.8 302.1 1877.8 305.9 1883.9 309.7C1890.1 313.4 1896.3 317.7 1900.8 320.9C1905.3 324.1 1909.2 327.6 1910.9 329"/>
<path d="M1825 283.9C1828.1 285.4 1837.1 289.5 1843.5 292.8C1850 296 1857 299.6 1863.7 303.2C1870.5 306.8 1877.8 310.7 1883.9 314.5C1890.1 318.2 1898 323.9 1900.8 325.7"/>
<path d="M1846.9 293.6C1844.9 292.8 1838.6 288.5 1835.1 288.7C1831.6 289 1827 292.2 1825.8 295.2C1824.7 298.1 1826.3 302.7 1828.4 306.4C1830.5 310.2 1834.3 313.9 1838.5 317.7C1842.7 321.5 1848.9 325.2 1853.6 329C1858.4 332.7 1864.9 338.3 1867.1 340.2"/>
<path d="M1954.7 266.2C1952.7 268.1 1946.8 274 1942.9 277.5C1939 281 1935.3 283.9 1931.1 287.1C1926.9 290.3 1921.6 293.3 1917.6 296.8C1913.7 300.3 1910.3 303.8 1907.5 308C1904.7 312.3 1901.9 320.1 1900.8 322.5"/>
<path d="M2018.7 277.5C2015.9 278.8 2008.9 282.3 2001.9 285.5C1994.8 288.7 1985 293.6 1976.6 296.8C1968.2 300 1959.7 302.4 1951.3 304.8C1942.9 307.2 1933.4 309.4 1926.1 311.3C1918.8 313.1 1910.6 315.3 1907.5 316.1"/>
<path d="M1907.5 277.5C1907.7 280.4 1908.4 289.5 1908.4 295.2C1908.4 300.8 1907.8 305.9 1907.5 311.3C1907.2 316.6 1906.7 322.3 1906.7 327.4C1906.7 332.5 1907.4 339.4 1907.5 341.8"/>
<path d="M1910.9 287.1C1913.4 288.2 1920.7 291.2 1926.1 293.6C1931.4 296 1937.3 299.2 1942.9 301.6C1948.5 304 1954.1 305.9 1959.7 308C1965.4 310.2 1973.8 313.4 1976.6 314.5"/>
<path d="M1981.6 300C1983.6 298.7 1988.9 294.9 1993.4 292C1997.9 289 2004.1 284.7 2008.6 282.3C2013.1 279.9 2017.9 276.7 2020.4 277.5C2022.9 278.3 2022.6 283.1 2023.8 287.1C2024.9 291.2 2026.8 297.3 2027.1 301.6C2027.4 305.9 2027.4 310.2 2025.4 312.9C2023.5 315.6 2019.3 317.2 2015.3 317.7C2011.4 318.2 2006.1 317.4 2001.9 316.1C1997.7 314.8 1993.4 312.3 1990.1 309.7C1986.7 307 1983.1 301.6 1981.6 300"/>
<path d="M1934.5 335.4C1936.2 333.3 1940.1 325.7 1944.6 322.5C1949.1 319.3 1955.8 316.6 1961.4 316.1C1967 315.6 1973.5 316.9 1978.3 319.3C1983.1 321.7 1986.8 326.8 1990.1 330.6C1993.3 334.3 1996.4 340 1997.7 341.8"/>
<path d="M2008.6 329C2011.7 328.2 2020.4 325.5 2027.1 324.1C2033.9 322.8 2042 320.9 2049 320.9C2056 320.9 2063.6 322.3 2069.2 324.1C2074.9 326 2079.6 329.1 2082.7 332.2C2085.8 335.3 2086.9 340.9 2087.8 342.6"/>
<path d="M2087.8 342.4C2087.9 344.8 2088.9 351.8 2088.6 356.9C2088.3 362 2087.4 367.6 2086.1 373C2084.8 378.4 2082.7 383.7 2081 389.1C2079.3 394.5 2077.4 400.6 2076 405.2C2074.6 409.7 2074 411.9 2072.6 416.4C2071.2 421 2069.8 426.1 2067.6 432.5C2065.3 439 2062.2 447.6 2059.1 455.1C2056 462.6 2050.7 473.8 2049 477.6"/>
<path d="M1986.7 361.7C1990.1 360.7 1999.3 357.3 2006.9 355.3C2014.5 353.3 2024.6 350.9 2032.2 349.7C2039.8 348.5 2046.8 347.8 2052.4 348.1C2058 348.3 2063.3 349 2065.9 351.3C2068.4 353.6 2068.1 357.6 2067.6 361.7C2067 365.9 2065 371.4 2062.5 376.2C2060 381.1 2055.5 386.7 2052.4 390.7C2049.3 394.7 2045.4 398.8 2044 400.4"/>
<path d="M1926.1 347.3C1928.9 347.1 1937.3 345.9 1942.9 346.5C1948.5 347 1954.7 349 1959.7 350.5C1964.8 352 1968.2 355.6 1973.2 355.3C1978.3 355 1984.7 351 1990.1 348.9C1995.4 346.7 2002.7 343.5 2005.2 342.4"/>
<path d="M1997.7 341.6C1998.6 340.7 2002 338 2003.5 336C2005.1 334 2006.4 330.6 2006.9 329.6"/>
<path d="M1951.3 379.4C1951 378.4 1948.5 375.4 1949.6 373C1950.8 370.6 1954.7 367 1958.1 365C1961.4 363 1965.9 360.9 1969.9 360.9C1973.8 360.9 1979.1 363.2 1981.6 365C1984.2 366.7 1985.9 369.3 1985 371.4C1984.2 373.5 1980.2 376.2 1976.6 377.8C1972.9 379.4 1967.3 380.8 1963.1 381.1C1958.9 381.3 1953.3 379.7 1951.3 379.4"/>
<path d="M1890.7 369.8C1894.1 371.7 1903.6 378.1 1910.9 381.1C1918.2 384 1927.7 386.1 1934.5 387.5C1941.2 388.8 1944.3 388.3 1951.3 389.1C1958.3 389.9 1965.4 390.2 1976.6 392.3C1987.8 394.5 2006.1 399.3 2018.7 402C2031.3 404.6 2042.9 406 2052.4 408.4C2061.9 410.8 2072 415.1 2076 416.4"/>
<path d="M1973.2 393.9C1972.1 397.1 1968.7 406 1966.5 413.2C1964.2 420.5 1960.9 433.3 1959.7 437.4"/>
<path d="M1990.1 405.2C1992.9 404.9 2000.7 403.6 2006.9 403.6C2013.1 403.6 2019.5 404.4 2027.1 405.2C2034.7 406 2045.4 407.1 2052.4 408.4C2059.4 409.7 2067.8 410.3 2069.2 413.2C2070.6 416.2 2065 422.1 2060.8 426.1C2056.6 430.1 2051 433.6 2044 437.4C2037 441.1 2026.6 445.9 2018.7 448.6C2010.8 451.3 2002.1 453.5 1996.8 453.5C1991.5 453.5 1988.8 452.1 1986.7 448.6C1984.6 445.1 1984.5 437.9 1984.2 432.5C1983.9 427.2 1984 421 1985 416.4C1986 411.9 1989.2 407.1 1990.1 405.2"/>
<path d="M1926.1 332.8C1926.3 335.5 1926.9 343.5 1927.7 348.9C1928.6 354.2 1930.4 359.6 1931.1 365C1931.8 370.3 1932 375.2 1932 381.1C1932 387 1931.8 393.9 1931.1 400.4C1930.4 406.8 1929.4 413.5 1927.7 419.7C1926.1 425.8 1922.1 434.4 1921 437.4"/>
<path d="M1823.3 336C1823.6 339.5 1823.3 349.9 1825 356.9C1826.7 363.9 1829.8 371.1 1833.4 377.8C1837.1 384.5 1841.8 391.2 1846.9 397.1C1851.9 403 1858.1 408.4 1863.7 413.2C1869.3 418.1 1875 422.6 1880.6 426.1C1886.2 429.6 1894.6 432.8 1897.4 434.1"/>
<path d="M1830 337.6C1833.4 340 1843.5 347.5 1850.3 352.1C1857 356.6 1863.7 361.5 1870.5 365C1877.2 368.4 1883.9 370.3 1890.7 373C1897.4 375.7 1907.5 379.7 1910.9 381.1"/>
<path d="M1870.5 339.2C1872.7 343 1879.5 354 1883.9 361.7C1888.4 369.5 1892.9 377.8 1897.4 385.9C1901.9 393.9 1907 402.2 1910.9 410C1914.8 417.8 1917.6 426.9 1921 432.5C1924.4 438.2 1927.2 441.3 1931.1 443.8C1935 446.3 1942.3 447.2 1944.6 447.8"/>
<path d="M1897.4 384.3C1895.2 384.8 1889 385.9 1883.9 387.5C1878.9 389.1 1872.7 391.5 1867.1 393.9C1861.5 396.3 1854.2 398.8 1850.3 402C1846.3 405.2 1844.4 409.2 1843.5 413.2C1842.7 417.3 1843.5 421.8 1845.2 426.1C1846.9 430.4 1850 435.2 1853.6 439C1857.3 442.7 1861.5 445.9 1867.1 448.6C1872.7 451.3 1878.9 453.7 1887.3 455.1C1895.7 456.4 1908.4 456.5 1917.6 456.7C1926.9 456.9 1936.2 456.1 1942.9 456.4C1949.6 456.6 1954.4 456.6 1958.1 458.3C1961.7 459.9 1964.2 463.1 1964.8 466.3C1965.4 469.5 1963.4 474.1 1961.4 477.6C1959.5 481.1 1956.4 484.8 1953 487.2C1949.6 489.7 1945.7 491.4 1941.2 492.1C1936.7 492.7 1932.8 492.6 1926.1 491.3C1919.3 489.9 1909.5 487.1 1900.8 484C1892.1 480.9 1883.1 476.5 1873.8 472.8C1864.6 469 1850 463.4 1845.2 461.5"/>
<path d="M1900.8 385.9C1900.2 387.8 1899.7 392.6 1897.4 397.1C1895.2 401.7 1890.7 408.1 1887.3 413.2C1883.9 418.3 1876.6 424 1877.2 427.7C1877.8 431.5 1885.6 433.3 1890.7 435.8C1895.7 438.2 1903 441.9 1907.5 442.2C1912 442.5 1916.2 440.6 1917.6 437.4C1919 434.1 1917.6 427.7 1916 422.9C1914.3 418.1 1910.3 413.2 1907.5 408.4C1904.7 403.6 1900.5 396.3 1899.1 393.9"/>
<path d="M1904.2 337.6C1904.2 340 1904.7 347.5 1904.2 352.1C1903.6 356.6 1902.5 361.2 1900.8 365C1899.1 368.7 1895.2 373 1894.1 374.6"/>
</g>
<g filter="url(#b2)" stroke="#111" stroke-width="0.6" stroke-linejoin="round">
<text transform="translate(2010.2 190.9)" font-size="24" font-weight="bold" text-anchor="middle" fill="#0a0a0a" dy="0.35em">-NH</text>
<text transform="translate(2044.9 174.5)" font-size="26" font-weight="bold" text-anchor="middle" fill="#0a0a0a" dy="0.35em">+</text>
<text transform="translate(1853.3 228.1) rotate(-70)" font-size="24" font-weight="bold" text-anchor="middle" fill="#0a0a0a" dy="0.35em">N</text>
<text transform="translate(1856.4 239.5) rotate(90)" font-size="24" font-weight="bold" text-anchor="middle" fill="#0a0a0a" dy="0.35em">-</text>
<text transform="translate(1772.3 282.3)" font-size="24" font-weight="bold" text-anchor="middle" fill="#0a0a0a" dy="0.35em">HN-</text>
<text transform="translate(1735.7 265.9)" font-size="26" font-weight="bold" text-anchor="middle" fill="#0a0a0a" dy="0.35em">+</text>
<text transform="translate(1800.6 378.7) rotate(-20)" font-size="24" font-weight="bold" text-anchor="middle" fill="#0a0a0a" dy="0.35em">HN-</text>
<text transform="translate(1760.3 375.3) rotate(35)" font-size="24" font-weight="bold" text-anchor="middle" fill="#0a0a0a" dy="0.35em">+</text>
<text transform="translate(1885.7 469.8) rotate(-55)" font-size="24" font-weight="bold" text-anchor="middle" fill="#0a0a0a" dy="0.35em">N</text>
<text transform="translate(1877.5 458.2) rotate(40)" font-size="24" font-weight="bold" text-anchor="middle" fill="#0a0a0a" dy="0.35em">-</text>
<text transform="translate(1979.3 489.7) rotate(22)" font-size="24" font-weight="bold" text-anchor="middle" fill="#0a0a0a" dy="0.35em">-NH</text>
<text transform="translate(2015.5 485.6) rotate(30)" font-size="24" font-weight="bold" text-anchor="middle" fill="#0a0a0a" dy="0.35em">+</text>
<text transform="translate(2092.8 384.7)" font-size="24" font-weight="bold" text-anchor="middle" fill="#0a0a0a" dy="0.35em">-N</text>
<text transform="translate(2053.4 302.2)" font-size="24" font-weight="bold" text-anchor="middle" fill="#0a0a0a" dy="0.35em">-NH</text>
<text transform="translate(2088 285.5)" font-size="26" font-weight="bold" text-anchor="middle" fill="#0a0a0a" dy="0.35em">+</text>
</g>
<g fill="none" stroke="#06822a" stroke-width="4.8" stroke-linecap="round" stroke-linejoin="round" filter="url(#b2)">
<path d="M529.3 697.6C529.5 701.2 530 712.4 530.5 719.6C530.9 726.8 532 734.8 532 740.8C532 746.8 531.3 751.2 530.5 755.5C529.6 759.7 527.6 764.3 527 766"/>
<path d="M525.4 763.6C524.1 764.6 520.6 768.1 517.5 769.3C514.3 770.5 510.4 771.1 506.4 770.9C502.4 770.8 497.4 770 493.7 768.5C490 767 486.2 764.4 484.2 762C482.3 759.5 481.3 756.8 481.9 753.8C482.4 750.8 485.2 747.8 487.4 744C489.7 740.2 492.7 735.3 495.3 731C498 726.6 501.4 721.6 503.2 718C505 714.3 507.1 710.5 506.1 709C505 707.5 501.1 708.2 496.9 709C492.7 709.8 486.4 711.7 481.1 713.9C475.8 716.1 469.6 719.2 465.3 722C460.9 724.9 457.3 727.9 455 731C452.6 734.1 451.5 737 451.3 740.8C451.2 744.6 452.4 749.5 454.2 753.8C456 758.2 458.9 762.8 462.1 766.9C465.3 770.9 469.5 775.3 473.2 778.3C476.9 781.3 480.8 783.8 484.2 784.8C487.7 785.7 491.1 784.8 493.7 784C496.4 783.2 499 780.6 500.1 779.9"/>
<path d="M501.7 740.8C503.2 740.9 508 740.2 511.1 741.6C514.3 743 517 745.8 520.6 748.9C524.3 752.1 529.1 757.4 533.3 760.3C537.5 763.3 541.5 766 546 766.9C550.4 767.7 556 766.2 560.2 765.2C564.4 764.3 567.9 762.1 571.3 761.2C574.7 760.2 578 758.8 580.8 759.5C583.6 760.2 586.3 762.7 587.9 765.2C589.5 767.8 590.1 771.2 590.3 775C590.4 778.8 589.2 783.4 588.7 788.1C588.2 792.7 587.4 800.3 587.1 802.7"/>
<path d="M501.7 740.8C502.4 742.1 504 745.9 506.4 748.9C508.8 751.9 512.5 755.5 515.9 758.7C519.3 762 523.3 765.2 527 768.5C530.7 771.8 534.4 775.3 538.1 778.3C541.7 781.3 545.4 784.3 549.1 786.4C552.8 788.6 558.4 790.5 560.2 791.3"/>
<path d="M402 765.2C403.8 764.6 409.1 761.2 413 761.2C417 761.2 421.2 763.2 425.7 765.2C430.2 767.3 435.4 770.9 439.9 773.4C444.4 775.8 448.4 778.3 452.6 779.9C456.8 781.5 460.5 782.4 465.3 783.2C470 784 475.5 785.2 481.1 784.8C486.6 784.4 495.6 781.4 498.5 780.7"/>
<path d="M402 768.5C404.6 769 412.5 769.6 417.8 771.8C423.1 773.9 429.4 778.3 433.6 781.5C437.8 784.8 441.2 787.5 443.1 791.3C445 795.1 445 800.3 445 804.4C445 808.4 443.4 813.9 443.1 815.8"/>
<path d="M411.4 779.9C408.8 779.2 401.2 776.6 395.6 775.8C390.1 775 383.5 774.1 378.2 775C372.9 776 367.8 778.3 364 781.5C360.1 784.8 357 789.7 355.3 794.6C353.6 799.5 353.3 805.4 353.7 810.9C354.1 816.3 355.7 822 357.6 827.2C359.6 832.3 362.6 837.5 365.6 841.9C368.5 846.2 371.6 850.3 375 853.3C378.5 856.3 384.3 858.7 386.1 859.8"/>
<path d="M376.6 792.9C379.5 794.3 387.7 797.8 394 801.1C400.4 804.4 408 808.7 414.6 812.5C421.2 816.3 427.8 820.1 433.6 823.9C439.4 827.7 445.2 832.1 449.4 835.3C453.6 838.6 457.3 842.1 458.9 843.5"/>
<path d="M378.2 797.8C381.1 799.3 389.6 803.5 395.6 806.8C401.7 810.1 408.3 813.7 414.6 817.4C420.9 821.1 427.8 825 433.6 828.8C439.4 832.6 446.8 838.3 449.4 840.2"/>
<path d="M398.8 807.6C396.9 806.8 391 802.5 387.7 802.7C384.4 803 380.1 806.3 379 809.3C377.9 812.2 379.4 816.9 381.4 820.7C383.4 824.5 386.9 828.3 390.9 832.1C394.8 835.9 400.6 839.7 405.1 843.5C409.6 847.3 415.7 853 417.8 854.9"/>
<path d="M500.1 779.9C498.2 781.8 492.7 787.8 489 791.3C485.3 794.9 481.9 797.8 477.9 801.1C474 804.4 468.9 807.3 465.3 810.9C461.6 814.4 458.4 817.9 455.8 822.3C453.1 826.6 450.5 834.5 449.4 837"/>
<path d="M560.2 791.3C557.6 792.7 551 796.2 544.4 799.5C537.8 802.7 528.6 807.6 520.6 810.9C512.7 814.1 504.8 816.6 496.9 819C489 821.5 480 823.7 473.2 825.6C466.3 827.5 458.7 829.6 455.8 830.4"/>
<path d="M455.8 791.3C455.9 794.3 456.5 803.5 456.5 809.3C456.5 815 456 820.1 455.8 825.6C455.5 831 455 836.7 455 841.9C455 847 455.6 854.1 455.8 856.5"/>
<path d="M458.9 801.1C461.3 802.2 468.2 805.2 473.2 807.6C478.2 810.1 483.7 813.3 489 815.8C494.3 818.2 499.5 820.1 504.8 822.3C510.1 824.5 518 827.7 520.6 828.8"/>
<path d="M525.4 814.1C527.2 812.8 532.2 809 536.5 806C540.7 803 546.5 798.7 550.7 796.2C554.9 793.8 559.4 790.5 561.8 791.3C564.2 792.1 563.9 797 565 801.1C566 805.2 567.9 811.4 568.1 815.8C568.4 820.1 568.4 824.5 566.5 827.2C564.7 829.9 560.7 831.5 557 832.1C553.4 832.6 548.3 831.8 544.4 830.4C540.4 829.1 536.5 826.6 533.3 823.9C530.1 821.2 526.7 815.8 525.4 814.1"/>
<path d="M481.1 850C482.7 847.8 486.4 840.2 490.6 837C494.8 833.7 501.1 831 506.4 830.4C511.7 829.9 517.7 831.3 522.2 833.7C526.7 836.2 530.3 841.3 533.3 845.1C536.3 848.9 539.2 854.6 540.4 856.5"/>
<path d="M550.7 843.5C553.6 842.7 561.8 840 568.1 838.6C574.5 837.2 582.1 835.3 588.7 835.3C595.3 835.3 602.4 836.7 607.7 838.6C613 840.5 617.4 843.6 620.3 846.7C623.2 849.9 624.3 855.6 625.1 857.3"/>
<path d="M625.1 857.1C625.2 859.6 626.1 866.6 625.9 871.8C625.6 877 624.7 882.7 623.5 888.1C622.3 893.5 620.3 899 618.8 904.4C617.2 909.9 615.3 916.1 614 920.7C612.7 925.3 612.2 927.5 610.9 932.1C609.5 936.8 608.2 941.9 606.1 948.4C604 955 601.1 963.7 598.2 971.3C595.3 978.9 590.3 990.3 588.7 994.1"/>
<path d="M530.1 876.7C533.3 875.6 542 872.2 549.1 870.2C556.3 868.1 565.7 865.7 572.9 864.5C580 863.3 586.6 862.6 591.9 862.8C597.1 863.1 602.1 863.8 604.5 866.1C606.9 868.4 606.6 872.5 606.1 876.7C605.6 880.9 603.7 886.5 601.4 891.4C599 896.3 594.8 902 591.9 906C589 910.1 585.3 914.2 583.9 915.8"/>
<path d="M473.2 862C475.8 861.9 483.7 860.7 489 861.2C494.3 861.8 500.1 863.8 504.8 865.3C509.6 866.8 512.7 870.5 517.5 870.2C522.2 869.9 528.3 865.8 533.3 863.7C538.3 861.5 545.2 858.2 547.5 857.1"/>
<path d="M540.4 856.3C541.3 855.4 544.5 852.7 546 850.6C547.4 848.6 548.6 845.2 549.1 844.1"/>
<path d="M496.9 894.6C496.6 893.5 494.3 890.6 495.3 888.1C496.4 885.7 500.1 882 503.2 880C506.4 877.9 510.6 875.9 514.3 875.9C518 875.9 523 878.2 525.4 880C527.8 881.7 529.3 884.3 528.6 886.5C527.8 888.7 524.1 891.4 520.6 893C517.2 894.6 511.9 896 508 896.3C504 896.5 498.8 894.9 496.9 894.6"/>
<path d="M439.9 884.9C443.1 886.8 452.1 893.3 458.9 896.3C465.8 899.3 474.7 901.4 481.1 902.8C487.4 904.1 490.3 903.6 496.9 904.4C503.5 905.2 510.1 905.5 520.6 907.7C531.2 909.9 548.3 914.7 560.2 917.5C572.1 920.2 582.9 921.5 591.9 924C600.8 926.4 610.3 930.8 614 932.1"/>
<path d="M517.5 909.3C516.4 912.6 513.3 921.5 511.1 928.9C509 936.2 505.9 949.3 504.8 953.3"/>
<path d="M533.3 920.7C535.9 920.5 543.3 919.1 549.1 919.1C554.9 919.1 561 919.9 568.1 920.7C575.2 921.5 585.3 922.6 591.9 924C598.5 925.3 606.4 925.9 607.7 928.9C609 931.9 603.7 937.8 599.8 941.9C595.8 946 590.5 949.5 583.9 953.3C577.4 957.1 567.6 962 560.2 964.7C552.8 967.5 544.6 969.6 539.6 969.6C534.6 969.6 532.1 968.3 530.1 964.7C528.2 961.2 528 953.9 527.8 948.4C527.5 943 527.6 936.8 528.6 932.1C529.5 927.5 532.5 922.6 533.3 920.7"/>
<path d="M473.2 847.4C473.4 850.1 474 858.2 474.7 863.7C475.5 869.1 477.3 874.5 477.9 880C478.6 885.4 478.7 890.3 478.7 896.3C478.7 902.2 478.6 909.3 477.9 915.8C477.3 922.4 476.3 929.1 474.7 935.4C473.2 941.6 469.5 950.3 468.4 953.3"/>
<path d="M376.6 850.6C376.9 854.2 376.6 864.7 378.2 871.8C379.8 878.9 382.7 886.2 386.1 893C389.6 899.8 394 906.6 398.8 912.6C403.5 918.5 409.3 924 414.6 928.9C419.9 933.8 425.2 938.4 430.4 941.9C435.7 945.4 443.6 948.7 446.3 950.1"/>
<path d="M383 852.2C386.1 854.7 395.6 862.3 402 866.9C408.3 871.5 414.6 876.4 420.9 880C427.3 883.5 433.6 885.4 439.9 888.1C446.3 890.8 455.8 894.9 458.9 896.3"/>
<path d="M420.9 853.9C423.1 857.7 429.4 868.8 433.6 876.7C437.8 884.6 442 893 446.3 901.2C450.5 909.3 455.2 917.7 458.9 925.6C462.6 933.5 465.3 942.7 468.4 948.4C471.6 954.1 474.2 957.3 477.9 959.8C481.6 962.4 488.5 963.2 490.6 963.9"/>
<path d="M446.3 899.5C444.2 900.1 438.3 901.2 433.6 902.8C428.9 904.4 423.1 906.9 417.8 909.3C412.5 911.8 405.6 914.2 402 917.5C398.3 920.7 396.4 924.8 395.6 928.9C394.8 932.9 395.6 937.6 397.2 941.9C398.8 946.3 401.7 951.2 405.1 955C408.5 958.8 412.5 962 417.8 964.7C423.1 967.5 428.9 969.9 436.8 971.3C444.7 972.6 456.5 972.7 465.3 972.9C474 973.1 482.7 972.3 489 972.6C495.3 972.8 499.8 972.8 503.2 974.5C506.7 976.2 509 979.4 509.6 982.7C510.1 985.9 508.2 990.6 506.4 994.1C504.6 997.6 501.7 1001.4 498.5 1003.9C495.3 1006.3 491.6 1008.1 487.4 1008.8C483.2 1009.4 479.5 1009.3 473.2 1007.9C466.8 1006.6 457.6 1003.7 449.4 1000.6C441.3 997.5 432.8 993 424.1 989.2C415.4 985.4 401.7 979.7 397.2 977.8"/>
<path d="M449.4 901.2C448.9 903.1 448.4 908 446.3 912.6C444.2 917.2 439.9 923.7 436.8 928.9C433.6 934 426.7 939.7 427.3 943.5C427.8 947.4 435.2 949.3 439.9 951.7C444.7 954.1 451.5 957.9 455.8 958.2C460 958.5 463.9 956.6 465.3 953.3C466.6 950.1 465.3 943.5 463.7 938.7C462.1 933.8 458.4 928.9 455.8 924C453.1 919.1 449.2 911.8 447.8 909.3"/>
<path d="M452.6 852.2C452.6 854.7 453.1 862.3 452.6 866.9C452.1 871.5 451 876.2 449.4 880C447.8 883.8 444.2 888.1 443.1 889.7"/>
</g>
<g filter="url(#b2)" stroke="#111" stroke-width="0.6" stroke-linejoin="round">
<text transform="translate(568.1 691.9) rotate(-12)" font-size="24.5" font-weight="bold" text-anchor="middle" fill="#1c1c1c" dy="0.35em">-COO</text>
<text transform="translate(416.8 725.9) rotate(-80)" font-size="24.5" font-weight="bold" text-anchor="middle" fill="#1c1c1c" dy="0.35em">COO</text>
<text transform="translate(308.7 808.8) rotate(180)" font-size="24.5" font-weight="bold" text-anchor="middle" fill="#1c1c1c" dy="0.35em">-COO</text>
<text transform="translate(665.8 852.6)" font-size="24.5" font-weight="bold" text-anchor="middle" fill="#1c1c1c" dy="0.35em">-COOH</text>
<text transform="translate(628.6 971.1) rotate(-3)" font-size="24.5" font-weight="bold" text-anchor="middle" fill="#1c1c1c" dy="0.35em">-COO</text>
<text transform="translate(528.4 1014.3) rotate(42)" font-size="24.5" font-weight="bold" text-anchor="middle" fill="#1c1c1c" dy="0.35em">-COO</text>
<text transform="translate(353.8 955.3) rotate(157)" font-size="24.5" font-weight="bold" text-anchor="middle" fill="#1c1c1c" dy="0.35em">-COOH</text>
<text transform="translate(603.4 669.2) rotate(-12)" font-size="22" font-weight="bold" text-anchor="middle" fill="#1c1c1c" dy="0.35em">-</text>
<text transform="translate(408.9 682.4) rotate(-80)" font-size="22" font-weight="bold" text-anchor="middle" fill="#1c1c1c" dy="0.35em">-</text>
<text transform="translate(274.4 800)" font-size="22" font-weight="bold" text-anchor="middle" fill="#1c1c1c" dy="0.35em">-</text>
<text transform="translate(669.5 956.6)" font-size="22" font-weight="bold" text-anchor="middle" fill="#1c1c1c" dy="0.35em">-</text>
<text transform="translate(563 1037.9) rotate(42)" font-size="22" font-weight="bold" text-anchor="middle" fill="#1c1c1c" dy="0.35em">-</text>
</g>
<g filter="url(#b2)">
<path d="M1158.6 712.7L1162.1 700.1M1138.4 722.8L1129 718.4M1167.4 739.2L1192.6 748L1188.9 766.3M1249.4 691.3L1259.5 703.2M1280.9 690.6L1279.6 700.7M1315.5 694.4L1300.4 705.4M1274.6 737.9L1291.9 758.1M1370.7 712.7L1369.1 728.4M1397.5 732.9L1384.9 740.4M1397.5 757.4L1414.8 759M1353.4 764.4L1347.7 792.1M1447.9 813.5L1435.3 822.4M1441.6 841.9L1454.8 841.9M1440 861.4L1453.3 871.5M1401.3 844.1L1383.3 858.3M1440 921.9L1424.3 926.3M1424.3 946.5L1437.5 950.3M1416.4 963.8L1424.9 977.4M1388 935.5L1364.4 945.6M1369.1 1009.5L1383.9 1013.3M1353.4 1019.6L1353.4 1032.2M1338.2 993.8L1315.5 989.1M1217.9 1053.7L1205.3 1065.3M1238.3 1056.8L1238.3 1068.5M1260.4 1053.7L1268.9 1065.3M1243.1 1022.1L1225.7 1001.7M1106 1001.7L1088.7 1004.8M1116.4 1018.4L1110.7 1024.3M1137.5 1025.3L1137.5 1040.1M1145.4 989.1L1145.4 963.8L1149.2 961.6M1041.4 896.1L1056.2 904.3M1044.5 926L1056.2 924.5M1055.6 952.8L1067.2 943.4M1096.5 916.6L1116.1 895.5M1076.1 768.5L1083 783.3M1061.9 795.3L1072 799M1052.4 820.5L1069.7 817.3M1107.6 812.6L1134.3 805.3L1138.4 810.4" fill="none" stroke="#1a1a1a" stroke-width="2.6" stroke-linecap="round" stroke-linejoin="round"/>
<g stroke="#0a0a0a" stroke-width="0.9" stroke-linejoin="round">
<text transform="translate(1156.4 730.7) rotate(-62)" font-size="25" font-weight="bold" text-anchor="middle" fill="#0a0a0a" dy="0.35em">N</text>
<text transform="translate(1164.3 686.5) rotate(-62)" font-size="25" font-weight="bold" text-anchor="middle" fill="#0a0a0a" dy="0.35em">H</text>
<text transform="translate(1117 707) rotate(-62)" font-size="25" font-weight="bold" text-anchor="middle" fill="#0a0a0a" dy="0.35em">H</text>
<text transform="translate(1274.6 722.8) rotate(-88)" font-size="25" font-weight="bold" text-anchor="middle" fill="#0a0a0a" dy="0.35em">N</text>
<text transform="translate(1244.6 677.1) rotate(-88)" font-size="25" font-weight="bold" text-anchor="middle" fill="#0a0a0a" dy="0.35em">H</text>
<text transform="translate(1285.6 667.6) rotate(-88)" font-size="25" font-weight="bold" text-anchor="middle" fill="#0a0a0a" dy="0.35em">H</text>
<text transform="translate(1323.4 678.7) rotate(-88)" font-size="25" font-weight="bold" text-anchor="middle" fill="#0a0a0a" dy="0.35em">H</text>
<text transform="translate(1243.1 729.7)" font-size="25" font-weight="bold" text-anchor="middle" fill="#0a0a0a" dy="0.35em">+</text>
<text transform="translate(1366 754.3) rotate(-50)" font-size="25" font-weight="bold" text-anchor="middle" fill="#0a0a0a" dy="0.35em">N</text>
<text transform="translate(1380.1 699.1) rotate(-50)" font-size="25" font-weight="bold" text-anchor="middle" fill="#0a0a0a" dy="0.35em">H</text>
<text transform="translate(1413.2 722.8) rotate(-50)" font-size="25" font-weight="bold" text-anchor="middle" fill="#0a0a0a" dy="0.35em">H</text>
<text transform="translate(1433.7 754.3) rotate(-50)" font-size="25" font-weight="bold" text-anchor="middle" fill="#0a0a0a" dy="0.35em">H</text>
<text transform="translate(1336 737.5) rotate(45)" font-size="25" font-weight="bold" text-anchor="middle" fill="#0a0a0a" dy="0.35em">+</text>
<text transform="translate(1416.4 841.9)" font-size="25" font-weight="bold" text-anchor="middle" fill="#0a0a0a" dy="0.35em">N</text>
<text transform="translate(1462.1 807.9)" font-size="25" font-weight="bold" text-anchor="middle" fill="#0a0a0a" dy="0.35em">H</text>
<text transform="translate(1476.3 841.9)" font-size="25" font-weight="bold" text-anchor="middle" fill="#0a0a0a" dy="0.35em">H</text>
<text transform="translate(1471.5 878.8)" font-size="25" font-weight="bold" text-anchor="middle" fill="#0a0a0a" dy="0.35em">H</text>
<text transform="translate(1402.2 813.2)" font-size="25" font-weight="bold" text-anchor="middle" fill="#0a0a0a" dy="0.35em">+</text>
<text transform="translate(1400.6 938.6) rotate(18)" font-size="25" font-weight="bold" text-anchor="middle" fill="#0a0a0a" dy="0.35em">N</text>
<text transform="translate(1455.8 918.2) rotate(18)" font-size="25" font-weight="bold" text-anchor="middle" fill="#0a0a0a" dy="0.35em">H</text>
<text transform="translate(1457.4 954.4) rotate(18)" font-size="25" font-weight="bold" text-anchor="middle" fill="#0a0a0a" dy="0.35em">H</text>
<text transform="translate(1441.6 987.5) rotate(18)" font-size="25" font-weight="bold" text-anchor="middle" fill="#0a0a0a" dy="0.35em">H</text>
<text transform="translate(1395.9 907.7) rotate(15)" font-size="25" font-weight="bold" text-anchor="middle" fill="#0a0a0a" dy="0.35em">+</text>
<text transform="translate(1350.2 1000.1) rotate(35)" font-size="25" font-weight="bold" text-anchor="middle" fill="#0a0a0a" dy="0.35em">N</text>
<text transform="translate(1395.9 1019) rotate(35)" font-size="25" font-weight="bold" text-anchor="middle" fill="#0a0a0a" dy="0.35em">H</text>
<text transform="translate(1356.5 1047.4) rotate(35)" font-size="25" font-weight="bold" text-anchor="middle" fill="#0a0a0a" dy="0.35em">H</text>
<text transform="translate(1241.5 1036.3) rotate(90)" font-size="25" font-weight="bold" text-anchor="middle" fill="#0a0a0a" dy="0.35em">N</text>
<text transform="translate(1197.4 1082) rotate(90)" font-size="25" font-weight="bold" text-anchor="middle" fill="#0a0a0a" dy="0.35em">H</text>
<text transform="translate(1236.8 1089.9) rotate(90)" font-size="25" font-weight="bold" text-anchor="middle" fill="#0a0a0a" dy="0.35em">H</text>
<text transform="translate(1276.2 1080.4) rotate(90)" font-size="25" font-weight="bold" text-anchor="middle" fill="#0a0a0a" dy="0.35em">H</text>
<text transform="translate(1273 1022.7)" font-size="25" font-weight="bold" text-anchor="middle" fill="#0a0a0a" dy="0.35em">+</text>
<text transform="translate(1135.9 1003.2) rotate(-50)" font-size="25" font-weight="bold" text-anchor="middle" fill="#0a0a0a" dy="0.35em">N</text>
<text transform="translate(1071.3 1012.7) rotate(-50)" font-size="25" font-weight="bold" text-anchor="middle" fill="#0a0a0a" dy="0.35em">H</text>
<text transform="translate(1096.5 1039.5) rotate(-50)" font-size="25" font-weight="bold" text-anchor="middle" fill="#0a0a0a" dy="0.35em">H</text>
<text transform="translate(1132.8 1053.7) rotate(-50)" font-size="25" font-weight="bold" text-anchor="middle" fill="#0a0a0a" dy="0.35em">H</text>
<text transform="translate(1165.9 1008.5)" font-size="25" font-weight="bold" text-anchor="middle" fill="#0a0a0a" dy="0.35em">+</text>
<text transform="translate(1080.8 921.3)" font-size="25" font-weight="bold" text-anchor="middle" fill="#0a0a0a" dy="0.35em">N</text>
<text transform="translate(1020.9 892.9)" font-size="25" font-weight="bold" text-anchor="middle" fill="#0a0a0a" dy="0.35em">H</text>
<text transform="translate(1022.5 930.8)" font-size="25" font-weight="bold" text-anchor="middle" fill="#0a0a0a" dy="0.35em">H</text>
<text transform="translate(1043 963.8)" font-size="25" font-weight="bold" text-anchor="middle" fill="#0a0a0a" dy="0.35em">H</text>
<text transform="translate(1099.7 947.1)" font-size="25" font-weight="bold" text-anchor="middle" fill="#0a0a0a" dy="0.35em">+</text>
<text transform="translate(1093.4 809.4) rotate(-32)" font-size="25" font-weight="bold" text-anchor="middle" fill="#0a0a0a" dy="0.35em">N</text>
<text transform="translate(1063.4 757.4) rotate(-32)" font-size="25" font-weight="bold" text-anchor="middle" fill="#0a0a0a" dy="0.35em">H</text>
<text transform="translate(1041.4 785.8) rotate(-32)" font-size="25" font-weight="bold" text-anchor="middle" fill="#0a0a0a" dy="0.35em">H</text>
<text transform="translate(1036.7 820.5) rotate(-32)" font-size="25" font-weight="bold" text-anchor="middle" fill="#0a0a0a" dy="0.35em">H</text>
<text transform="translate(1093.4 836.8) rotate(15)" font-size="25" font-weight="bold" text-anchor="middle" fill="#0a0a0a" dy="0.35em">+</text>
</g>
</g>
<g filter="url(#b1)"><path d="M1383 878L1382.7 886.1L1381.8 894.2L1380.2 902.3L1378.1 910.1L1375.4 917.9L1372.2 925.4L1368.4 932.7L1364.2 939.8L1359.5 946.6L1354.3 953.1L1348.8 959.3L1342.8 965.2L1336.5 970.7L1329.8 975.9L1322.8 980.6L1315.5 985L1307.9 989L1300 992.4L1291.9 995.5L1283.6 998L1275.1 999.9L1266.5 1001.4L1257.8 1002.2L1249 1002.5L1240.2 1002.2L1231.5 1001.3L1222.9 999.9L1214.4 997.8L1206.2 995.3L1198.1 992.2L1190.3 988.7L1182.7 984.7L1175.4 980.3L1168.5 975.5L1161.9 970.3L1155.6 964.8L1149.6 959L1144.1 952.8L1138.9 946.3L1134.2 939.6L1129.9 932.6L1126.1 925.3L1122.8 917.8L1120 910.1L1117.8 902.2L1116.3 894.2L1115.3 886.1L1115 878L1115.4 869.9L1116.4 861.8L1118.2 853.8L1120.6 846L1123.6 838.5L1127.2 831.1L1131.2 824L1135.7 817.2L1140.6 810.7L1145.9 804.5L1151.4 798.5L1157.3 792.8L1163.4 787.3L1169.9 782.2L1176.6 777.3L1183.6 772.8L1190.9 768.6L1198.5 764.8L1206.4 761.5L1214.6 758.7L1223 756.5L1231.5 754.8L1240.2 753.8L1249 753.5L1257.8 753.8L1266.5 754.7L1275.1 756.3L1283.5 758.4L1291.7 761.1L1299.7 764.2L1307.4 767.9L1314.9 772L1322 776.4L1328.9 781.3L1335.4 786.4L1341.7 791.9L1347.6 797.7L1353.1 803.8L1358.3 810.1L1363.1 816.8L1367.5 823.7L1371.4 830.9L1374.9 838.3L1377.7 846L1380 853.8L1381.7 861.8L1382.7 869.9Z" fill="url(#sg)"/><path d="M1383 878L1382.7 886.1L1381.8 894.2L1380.2 902.3L1378.1 910.1L1375.4 917.9L1372.2 925.4L1368.4 932.7L1364.2 939.8L1359.5 946.6L1354.3 953.1L1348.8 959.3L1342.8 965.2L1336.5 970.7L1329.8 975.9L1322.8 980.6L1315.5 985L1307.9 989L1300 992.4L1291.9 995.5L1283.6 998L1275.1 999.9L1266.5 1001.4L1257.8 1002.2L1249 1002.5L1240.2 1002.2L1231.5 1001.3L1222.9 999.9L1214.4 997.8L1206.2 995.3L1198.1 992.2L1190.3 988.7L1182.7 984.7L1175.4 980.3L1168.5 975.5L1161.9 970.3L1155.6 964.8L1149.6 959L1144.1 952.8L1138.9 946.3L1134.2 939.6L1129.9 932.6L1126.1 925.3L1122.8 917.8L1120 910.1L1117.8 902.2L1116.3 894.2L1115.3 886.1L1115 878L1115.4 869.9L1116.4 861.8L1118.2 853.8L1120.6 846L1123.6 838.5L1127.2 831.1L1131.2 824L1135.7 817.2L1140.6 810.7L1145.9 804.5L1151.4 798.5L1157.3 792.8L1163.4 787.3L1169.9 782.2L1176.6 777.3L1183.6 772.8L1190.9 768.6L1198.5 764.8L1206.4 761.5L1214.6 758.7L1223 756.5L1231.5 754.8L1240.2 753.8L1249 753.5L1257.8 753.8L1266.5 754.7L1275.1 756.3L1283.5 758.4L1291.7 761.1L1299.7 764.2L1307.4 767.9L1314.9 772L1322 776.4L1328.9 781.3L1335.4 786.4L1341.7 791.9L1347.6 797.7L1353.1 803.8L1358.3 810.1L1363.1 816.8L1367.5 823.7L1371.4 830.9L1374.9 838.3L1377.7 846L1380 853.8L1381.7 861.8L1382.7 869.9Z" fill="url(#sl)"/></g>
<g filter="url(#b2)">
<path d="M1838.1 705.3L1840.3 682.5M1834.1 703.5L1805 717.1M1836.2 710L1808.2 723.7M1838.1 705.3L1858.7 717.1L1890.3 701.6M1858.7 717.1L1857.2 742.1L1825.6 757.5M1857.2 742.1L1878.5 755.3L1878.5 778.8M1878.8 752.4L1896.2 742.4M1882.9 757.9L1892.5 752.4M1813.1 781L1807.9 789.9M1784.1 815.3L1764.6 842.8L1738.8 842.1L1726.8 822.9M1734.7 843.8L1717.1 871.8M1741.5 847.9L1723.8 875.9M1764.6 842.8L1777.8 865.6L1803.5 865.6M1777.8 865.6L1760.1 892.1M1912.1 719.7L1920.9 725.1M1698.4 807.1L1705.7 809M1950.7 725.1L1981.6 739.1L2004.4 722.9L2003.7 699.4L2026.5 683.2M2002.9 693.8L1972.8 680.6M2000 700.3L1969.9 687.1M2004.4 722.9L2036.8 737.6M2052.9 722.6L2052.9 730.6M1981.6 739.1L1982.4 764.9L1970.6 773.7M1987.1 762.6L2016.2 775.9M1984.1 768.8L2013.5 782.1M2085.6 754.6L2085.6 761.9M2107.1 774.4L2107.1 803.8L2086 815.6L2066.2 804.6M2082.8 817.4L2082.8 845M2089.7 817.4L2089.7 845M2107.1 803.8L2128.7 815.6L2150 804.6L2169.1 815.6M2147.1 801.2L2147.1 772.9M2153.7 801.2L2153.7 772.9M2128.7 815.6L2128.7 842.1M2192.6 810.4L2201.5 806.8M1765 910.7L1769.1 920.3M1772.6 956.3L1788.1 985L1816 985.7L1831.5 968.8M1816 985.7L1831.5 1012.9M1849.4 1019.4L1860.1 1020.3M1788.1 985L1774.1 1004.9L1750.6 1003.4M1777.4 1005.6L1793.5 1033.5M1771.2 1008.8L1787.4 1036.8M1717.5 1012.6L1727.4 1005.3M1893.2 1030.6L1928.5 1035L1944.7 1012.9M1928.5 1035L1937.4 1054.9L1922.6 1075.4M1944.1 1012.9L1978.7 1017.1M1995.6 1034.3L2001.8 1035M1941.9 1052.6L1976.5 1056.3M1941.6 1060L1975.7 1063.7M2075.7 915.1L2076.5 934.3L2098.5 944.6L2125.7 928.4M2074.3 934.7L2047.1 950.4M2078.2 940.6L2051.5 955.9M2138.5 907.8L2129.7 860M2098.5 944.6L2099.3 968.1L2075.7 982.1M2053.7 1010L2053.7 1019.1M2099.3 968.1L2119.9 979.1L2121.3 999.7M2120.6 975.4L2150 959.3M2123.5 981.8L2152.9 965.6M2137.1 1001.9L2147.8 1005.6" fill="none" stroke="#0a0a0a" stroke-width="3.6" stroke-linecap="round" stroke-linejoin="round"/>
<g stroke="#0a0a0a" stroke-width="0.7">
<text transform="translate(1836.2 660.9) rotate(62)" font-size="24.5" font-weight="bold" text-anchor="middle" fill="#0a0a0a" dy="0.35em">HO</text>
<text transform="translate(1792.5 728.8)" font-size="24.5" font-weight="bold" text-anchor="middle" fill="#0a0a0a" dy="0.35em">O</text>
<text transform="translate(1899.1 699.4) rotate(-62)" font-size="24.5" font-weight="bold" text-anchor="middle" fill="#0a0a0a" dy="0.35em">S</text>
<text transform="translate(1814.6 764.9) rotate(-62)" font-size="24.5" font-weight="bold" text-anchor="middle" fill="#0a0a0a" dy="0.35em">S</text>
<text transform="translate(1792.5 805.3) rotate(-58)" font-size="24.5" font-weight="bold" text-anchor="middle" fill="#0a0a0a" dy="0.35em">S</text>
<text transform="translate(1716 811.9)" font-size="24.5" font-weight="bold" text-anchor="middle" fill="#0a0a0a" dy="0.35em">O</text>
<text transform="translate(1712.4 884.7)" font-size="24.5" font-weight="bold" text-anchor="middle" fill="#0a0a0a" dy="0.35em">O</text>
<text transform="translate(1936.6 722.9) rotate(-65)" font-size="24.5" font-weight="bold" text-anchor="middle" fill="#0a0a0a" dy="0.35em">S</text>
<text transform="translate(1936.5 722.2) rotate(-65)" font-size="24.5" font-weight="bold" text-anchor="middle" fill="#0a0a0a" dy="0.35em">S</text>
<text transform="translate(2043.4 665.3) rotate(-58)" font-size="24.5" font-weight="bold" text-anchor="middle" fill="#0a0a0a" dy="0.35em">OH</text>
<text transform="translate(1958.1 678.8)" font-size="24.5" font-weight="bold" text-anchor="middle" fill="#0a0a0a" dy="0.35em">O</text>
<text transform="translate(2044.9 740.6) rotate(70)" font-size="24.5" font-weight="bold" text-anchor="middle" fill="#0a0a0a" dy="0.35em">S</text>
<text transform="translate(2025.7 784)" font-size="24.5" font-weight="bold" text-anchor="middle" fill="#0a0a0a" dy="0.35em">O</text>
<text transform="translate(2108.8 761.9)" font-size="24.5" font-weight="bold" text-anchor="middle" fill="#0a0a0a" dy="0.35em">S</text>
<text transform="translate(2054.4 802.4)" font-size="24.5" font-weight="bold" text-anchor="middle" fill="#0a0a0a" dy="0.35em">O</text>
<text transform="translate(2086.8 859)" font-size="24.5" font-weight="bold" text-anchor="middle" fill="#0a0a0a" dy="0.35em">O</text>
<text transform="translate(2151.5 761.9)" font-size="24.5" font-weight="bold" text-anchor="middle" fill="#0a0a0a" dy="0.35em">O</text>
<text transform="translate(2180.1 823.7)" font-size="24.5" font-weight="bold" text-anchor="middle" fill="#0a0a0a" dy="0.35em">O</text>
<text transform="translate(2129.4 856.8)" font-size="24.5" font-weight="bold" text-anchor="middle" fill="#0a0a0a" dy="0.35em">S</text>
<text transform="translate(1753.5 901.9) rotate(28)" font-size="24.5" font-weight="bold" text-anchor="middle" fill="#0a0a0a" dy="0.35em">S</text>
<text transform="translate(1805 924.7)" font-size="24.5" font-weight="bold" text-anchor="middle" fill="#0a0a0a" dy="0.35em">O</text>
<text transform="translate(1766.8 943.1) rotate(-20)" font-size="24.5" font-weight="bold" text-anchor="middle" fill="#0a0a0a" dy="0.35em">S</text>
<text transform="translate(1837.4 1025.4) rotate(-25)" font-size="24.5" font-weight="bold" text-anchor="middle" fill="#0a0a0a" dy="0.35em">S</text>
<text transform="translate(1736.6 1007.1)" font-size="24.5" font-weight="bold" text-anchor="middle" fill="#0a0a0a" dy="0.35em">O</text>
<text transform="translate(1797.6 1046)" font-size="24.5" font-weight="bold" text-anchor="middle" fill="#0a0a0a" dy="0.35em">O</text>
<text transform="translate(1882.9 1029.1) rotate(-70)" font-size="24.5" font-weight="bold" text-anchor="middle" fill="#0a0a0a" dy="0.35em">S</text>
<text transform="translate(1912.4 1097.9) rotate(90)" font-size="24.5" font-weight="bold" text-anchor="middle" fill="#0a0a0a" dy="0.35em">OH</text>
<text transform="translate(1996.3 1018.1) rotate(90)" font-size="24.5" font-weight="bold" text-anchor="middle" fill="#0a0a0a" dy="0.35em">S</text>
<text transform="translate(1990.4 1060)" font-size="24.5" font-weight="bold" text-anchor="middle" fill="#0a0a0a" dy="0.35em">O</text>
<text transform="translate(2070.6 902.6)" font-size="24.5" font-weight="bold" text-anchor="middle" fill="#0a0a0a" dy="0.35em">O</text>
<text transform="translate(2039 960.7)" font-size="24.5" font-weight="bold" text-anchor="middle" fill="#0a0a0a" dy="0.35em">O</text>
<text transform="translate(2136.8 923.2) rotate(-60)" font-size="24.5" font-weight="bold" text-anchor="middle" fill="#0a0a0a" dy="0.35em">S</text>
<text transform="translate(2064 990.9) rotate(-62)" font-size="24.5" font-weight="bold" text-anchor="middle" fill="#0a0a0a" dy="0.35em">S</text>
<text transform="translate(2161 955.6)" font-size="24.5" font-weight="bold" text-anchor="middle" fill="#0a0a0a" dy="0.35em">O</text>
<text transform="translate(2120.6 1015.9)" font-size="24.5" font-weight="bold" text-anchor="middle" fill="#0a0a0a" dy="0.35em">O</text>
</g>
</g>
<g filter="url(#b1)"><path d="M2059.5 888L2059.2 896L2058.3 903.9L2056.8 911.7L2054.7 919.4L2052.1 926.9L2049 934.3L2045.3 941.4L2041.2 948.3L2036.6 955L2031.6 961.3L2026.2 967.4L2020.4 973.1L2014.2 978.5L2007.7 983.6L2000.9 988.2L1993.8 992.5L1986.4 996.4L1978.7 999.8L1970.8 1002.7L1962.7 1005.2L1954.4 1007.1L1946 1008.5L1937.5 1009.3L1929 1009.6L1920.5 1009.3L1912 1008.4L1903.6 1007L1895.3 1005L1887.3 1002.5L1879.4 999.6L1871.8 996.1L1864.4 992.2L1857.4 987.9L1850.6 983.2L1844.1 978.2L1838 972.8L1832.2 967.1L1826.8 961.1L1821.8 954.8L1817.2 948.2L1813 941.3L1809.3 934.2L1806.1 926.9L1803.4 919.4L1801.3 911.7L1799.7 903.9L1798.8 896L1798.5 888L1798.9 880.1L1799.9 872.2L1801.6 864.4L1804 856.8L1806.9 849.4L1810.4 842.2L1814.3 835.3L1818.7 828.7L1823.5 822.3L1828.6 816.2L1834 810.3L1839.7 804.8L1845.7 799.5L1851.9 794.4L1858.5 789.7L1865.3 785.2L1872.4 781.1L1879.9 777.5L1887.5 774.2L1895.5 771.5L1903.7 769.3L1912 767.7L1920.5 766.7L1929 766.4L1937.5 766.7L1946 767.6L1954.4 769.1L1962.6 771.2L1970.6 773.8L1978.4 776.9L1985.9 780.5L1993.2 784.4L2000.1 788.8L2006.8 793.5L2013.2 798.6L2019.2 803.9L2025 809.6L2030.4 815.5L2035.5 821.7L2040.2 828.2L2044.4 835L2048.2 842L2051.6 849.2L2054.4 856.7L2056.6 864.4L2058.2 872.2L2059.2 880Z" fill="url(#sg)"/><path d="M2059.5 888L2059.2 896L2058.3 903.9L2056.8 911.7L2054.7 919.4L2052.1 926.9L2049 934.3L2045.3 941.4L2041.2 948.3L2036.6 955L2031.6 961.3L2026.2 967.4L2020.4 973.1L2014.2 978.5L2007.7 983.6L2000.9 988.2L1993.8 992.5L1986.4 996.4L1978.7 999.8L1970.8 1002.7L1962.7 1005.2L1954.4 1007.1L1946 1008.5L1937.5 1009.3L1929 1009.6L1920.5 1009.3L1912 1008.4L1903.6 1007L1895.3 1005L1887.3 1002.5L1879.4 999.6L1871.8 996.1L1864.4 992.2L1857.4 987.9L1850.6 983.2L1844.1 978.2L1838 972.8L1832.2 967.1L1826.8 961.1L1821.8 954.8L1817.2 948.2L1813 941.3L1809.3 934.2L1806.1 926.9L1803.4 919.4L1801.3 911.7L1799.7 903.9L1798.8 896L1798.5 888L1798.9 880.1L1799.9 872.2L1801.6 864.4L1804 856.8L1806.9 849.4L1810.4 842.2L1814.3 835.3L1818.7 828.7L1823.5 822.3L1828.6 816.2L1834 810.3L1839.7 804.8L1845.7 799.5L1851.9 794.4L1858.5 789.7L1865.3 785.2L1872.4 781.1L1879.9 777.5L1887.5 774.2L1895.5 771.5L1903.7 769.3L1912 767.7L1920.5 766.7L1929 766.4L1937.5 766.7L1946 767.6L1954.4 769.1L1962.6 771.2L1970.6 773.8L1978.4 776.9L1985.9 780.5L1993.2 784.4L2000.1 788.8L2006.8 793.5L2013.2 798.6L2019.2 803.9L2025 809.6L2030.4 815.5L2035.5 821.7L2040.2 828.2L2044.4 835L2048.2 842L2051.6 849.2L2054.4 856.7L2056.6 864.4L2058.2 872.2L2059.2 880Z" fill="url(#sl)"/></g>
<path d="M551 1737h6M604 1737h4M1384 1738h6M2047 1738h6" stroke="#9a9a9a" stroke-width="1.6" fill="none" filter="url(#b2)"/>
<text transform="translate(24.5 1186.2) scale(1.04 1)" font-size="56.3" fill="#000">B. Thermogravimetric analysis</text>
<g>
<g filter="url(#b2)">
<rect x="275.8" y="1315.3" width="579" height="363.7" fill="none" stroke="#777" stroke-width="2.3"/>
<path d="M275.8 1315.3V1679" stroke="#555" stroke-width="3" fill="none"/>
<path d="M274.8 1679H855.8" stroke="#555" stroke-width="2.6" fill="none"/>
<path d="M275.8 1345.4h4.5M275.8 1375.6h8.5M275.8 1405.9h4.5M275.8 1436.2h8.5M275.8 1466.4h4.5M275.8 1496.6h8.5M275.8 1527.2h4.5M275.8 1557.7h8.5M275.8 1588h4.5M275.8 1618.3h8.5M275.8 1648.7h4.5M275.8 1679h8.5M333.3 1679v-9M390.9 1679v-4M448.4 1679v-9M506.8 1679v-4M565.3 1679v-9M622.8 1679v-4M680.2 1679v-9M737.8 1679v-4M795.3 1679v-9" stroke="#4a4a4a" stroke-width="2.6" fill="none"/>
</g>
<g fill="none" stroke-linejoin="round" stroke-linecap="butt" filter="url(#b2)">
<path d="M275.5 1317.6C278.5 1317.4 288.4 1316.2 293.8 1316.6C299.2 1317.1 301.6 1318.5 307.9 1320.4C314.2 1322.3 325.5 1326 331.4 1328.2C337.3 1330.3 339.2 1331 343.1 1333.6C347.1 1336.1 351 1340 354.9 1343.4C358.8 1346.8 362.7 1350.1 366.6 1354C370.5 1357.9 374.5 1362 378.4 1366.9C382.3 1371.8 386.2 1377.5 390.1 1383.3C394 1389.2 397.9 1396.9 401.9 1402.1C405.8 1407.4 409.7 1411.3 413.6 1415.1C417.5 1418.8 421.4 1421.6 425.3 1424.5C429.3 1427.3 433.2 1429.7 437.1 1432.2C441 1434.7 444.9 1437.3 448.8 1439.7C452.7 1442.1 455.4 1443.6 460.6 1446.8C465.8 1449.9 475.6 1455 480 1458.5C484.4 1462 484.7 1464 487 1467.9C489.4 1471.8 491.4 1476.9 494.1 1482C496.8 1487.1 500 1493 503.5 1498.4C507 1503.9 511.3 1509 515.2 1514.9C519.1 1520.8 523.1 1527.6 527 1533.7C530.9 1539.7 536.2 1548 538.7 1551.3C541.3 1554.5 536.4 1552.8 542.2 1553.2C548.1 1553.6 564.8 1553.4 574 1553.6C583.2 1553.9 589.6 1554.1 597.4 1554.8C605.3 1555.5 613.1 1556.3 620.9 1557.6C628.8 1559 636.6 1560.6 644.4 1563C652.2 1565.5 662 1570.1 667.9 1572.4C673.8 1574.8 675.7 1575.8 679.6 1577.1C683.6 1578.4 687.5 1579.5 691.4 1580.2C695.3 1580.8 695.3 1580.9 703.1 1580.9C711 1580.9 724.9 1580.4 738.4 1580.2C751.9 1580 776.5 1579.8 784.2 1579.7" stroke="#00f01a" stroke-width="4.2"/>
<path d="M275.5 1317.6C278.2 1317.5 286.1 1316.1 291.5 1317.1C296.9 1318.1 301.2 1321.2 307.9 1323.5C314.6 1325.7 325.5 1328.7 331.4 1330.5C337.3 1332.3 339.2 1332.7 343.1 1334.5C347.1 1336.3 351 1339.2 354.9 1341.5C358.8 1343.9 362.7 1346.3 366.6 1348.6C370.5 1350.9 374.5 1353.1 378.4 1355.2C382.3 1357.2 386.2 1359.4 390.1 1361C394 1362.7 397.9 1363.9 401.9 1365C405.8 1366.1 409.7 1366.9 413.6 1367.6C417.5 1368.3 419.5 1368.7 425.3 1369.3C431.2 1369.8 439.7 1370.4 448.8 1371.1C457.9 1371.8 467 1373 480 1373.5C493 1374 511.3 1373.7 527 1374C542.6 1374.2 562.2 1374.5 574 1374.9C585.7 1375.3 589.6 1375.5 597.4 1376.3C605.3 1377.1 615.1 1378.6 620.9 1379.8C626.8 1381 628.8 1381.8 632.7 1383.3C636.6 1384.9 640.5 1386.9 644.4 1389.2C648.3 1391.6 652.2 1394.3 656.2 1397.4C660.1 1400.6 664 1404.3 667.9 1408C671.8 1411.7 676.5 1416.6 679.6 1419.8C682.8 1422.9 684.7 1425 686.7 1426.8C688.7 1428.6 689.6 1429.4 691.4 1430.3C693.2 1431.2 693.3 1431.9 697.3 1432.2C701.2 1432.5 700.4 1432.4 714.9 1432.2C729.4 1432 772.6 1431 784.2 1430.8" stroke="#ff1a1a" stroke-width="2.8"/>
<path d="M275.5 1317.6C278.5 1317.4 288.4 1316.2 293.8 1316.6C299.2 1317 301.6 1318.2 307.9 1319.9C314.2 1321.7 325.5 1325.2 331.4 1327C337.3 1328.7 339.2 1328.9 343.1 1330.5C347.1 1332.1 351 1334 354.9 1336.4C358.8 1338.7 362.7 1341.3 366.6 1344.6C370.5 1347.9 374.5 1352 378.4 1356.3C382.3 1360.6 386.2 1366.3 390.1 1370.4C394 1374.5 397.9 1377.9 401.9 1381C405.8 1384.1 409.7 1386.7 413.6 1389.2C417.5 1391.8 422.2 1394.6 425.3 1396.3C428.5 1397.9 428.5 1398.4 432.4 1399.3C436.3 1400.2 440.9 1400.4 448.8 1401.7C456.8 1402.9 472.8 1405.6 480 1406.8C487.2 1408.1 487.8 1408.2 491.7 1409.2C495.7 1410.2 498.8 1411.2 503.5 1412.7C508.2 1414.2 514.1 1417.1 519.9 1418.1C525.8 1419.1 529.7 1418.3 538.7 1418.6C547.7 1418.9 564.2 1419.2 574 1419.8C583.7 1420.3 589.6 1420.9 597.4 1422.1C605.3 1423.3 613.1 1424.5 620.9 1426.8C628.8 1429.1 638.5 1433.7 644.4 1436.2C650.3 1438.7 652.2 1440 656.2 1442.1C660.1 1444.1 664 1446.8 667.9 1448.6C671.8 1450.5 675.7 1452.4 679.6 1453.3C683.6 1454.2 685.5 1453.9 691.4 1454C697.3 1454.2 699.4 1454.2 714.9 1454C730.3 1453.9 772.6 1453.5 784.2 1453.3" stroke="#1a1aff" stroke-width="3.2"/>
<path d="M275.5 1319L277.1 1319L279.1 1318.5L281.6 1315.5L284.4 1317L287.3 1316.1L290.3 1316.3L293.3 1314.9L296.2 1315.1L298.4 1316.1L300.7 1315.6L303 1316.7L305.4 1315.5L307.7 1316.1L310.1 1318.7L312.5 1318.1L314.9 1318.9L317.3 1320.2L319.6 1319.5L322 1319L324.3 1322.1L326.7 1322.1L329 1323L331.4 1323.6L333.7 1325.5L336.1 1324.2L338.4 1326.3L340.8 1325.8L343.1 1327.2L345.5 1328.3L347.8 1327.9L350.2 1328L352.5 1330.2L354.9 1331.9L357.2 1332.3L359.6 1332.7L361.9 1334.1L364.3 1333.4L366.6 1334.1L369 1335.3L371.3 1337.7L373.7 1336.3L376 1336.7L378.4 1337.3L380.7 1337.7L383.1 1339.1L385.4 1340.7L387.8 1342.1L390.1 1341L392.5 1341.6L394.8 1341.8L397.2 1342.3L399.5 1344.4L401.9 1344L404.2 1343.4L406.6 1343.3L408.9 1346L411.3 1346.1L413.6 1346.9L415.9 1345.3L418.3 1346.7L420.6 1348.3L423 1347.6L425.3 1349.1L427.7 1346.8L430 1349.9L432.4 1347.1L434.7 1348.7L437.1 1347.7L439.4 1350.7L441.8 1350.5L444.1 1351.8L446.5 1351.5L448.8 1352.3L451.1 1351.1L453.5 1352.9L455.8 1352.4L458.2 1351.3L460.6 1353.7L463 1352L465.4 1351.7L467.9 1351.6L470.4 1353.2L472.9 1352.6L475.4 1355.5L477.8 1355.8L480.2 1353.6L482.5 1353.5L484.7 1355.3L487.3 1354.4L489.7 1355.9L491.9 1357.2L494.1 1355.5L496.3 1356.4L498.6 1358.3L501 1357L503.5 1357L505.6 1359.1L507.9 1359L510.2 1359.6L512.5 1359.1L514.9 1358.4L517.4 1359.6L519.8 1360.3L522.2 1359.9L524.6 1358.7L527 1359.2L529.3 1359.8L531.7 1361.2L534 1360.7L536.4 1360.9L538.7 1362.1L541.1 1359.9L543.4 1361.9L545.8 1361.1L548.1 1362.2L550.5 1363.3L552.8 1361.6L555.2 1364.3L557.5 1361.6L559.9 1363.6L562.2 1363.8L564.6 1363.1L566.9 1364.5L569.3 1364.4L571.6 1364.6L574 1365.8L576.3 1363.5L578.6 1365L581 1366.5L583.3 1364.5L585.7 1367.1L588 1364.9L590.4 1366.7L592.7 1365.1L595.1 1366.1L597.4 1366.2L599.8 1365.2L602.1 1367.4L604.5 1366.8L606.8 1367.7L609.2 1367.3L611.5 1367.5L613.9 1367.5L616.2 1366.9L618.6 1369.1L620.9 1366.4L623.3 1369.2L625.6 1369.3L628 1368.2L630.3 1369.2L632.7 1369L635 1368.9L637.4 1367.9L639.7 1368.1L642.1 1368.2L644.4 1368.1L646.8 1370.4L649.1 1368.3L651.5 1368.5L653.8 1368.6L656.2 1369.9L658.5 1368.8L660.9 1369L663.2 1368L665.6 1368L667.9 1367.4L670.3 1367.8L672.6 1368L675 1370L677.3 1368.8L679.6 1367.5L682 1368.7L684.3 1367.5L686.7 1369L689 1368.6L691.4 1370L693.7 1368L696.1 1370L698.4 1367.9L700.8 1370.5L703.1 1369.3L705.5 1367.3L707.8 1369.9L710.2 1368.1L712.5 1368.3L714.9 1367.6L717.2 1369.9L719.6 1367.3L721.9 1369.4L724.3 1368.1L726.6 1369L729 1367.6L731.3 1366.8L733.7 1369.6L736 1368.6L738.4 1367L740.7 1369.7L743.1 1369.5L745.5 1367.1L747.8 1366.7L750.2 1368.8L752.5 1367.3L754.9 1369.4L757.2 1368.6L759.6 1369.4L761.9 1369L764.5 1369.7L767.3 1369.9L770.2 1369.2L773.1 1369.1L775.8 1368.2L778.4 1367.6L780.7 1367.4L782.7 1370L784.2 1367.8" stroke="#0a0a0a" stroke-width="4.2"/>
</g>
<g filter="url(#b2)">
<g fill="#0a0a0a" stroke="none"><rect x="697" y="1315" width="2" height="57"/><path d="M698 1315.5L694.5 1323.5L701.5 1323.5Z"/><path d="M698 1371.5L694.5 1363.5L701.5 1363.5Z"/></g>
<g fill="#ff1a1a" stroke="none"><rect x="722.9" y="1315" width="2.8" height="116"/><path d="M724.3 1315.5L720.7 1323.5L727.9 1323.5Z"/><path d="M724.3 1430.5L720.7 1422.5L727.9 1422.5Z"/></g>
<g fill="#1a1aff" stroke="none"><rect x="745.3" y="1315" width="2.8" height="138"/><path d="M746.7 1315.5L743.1 1323.5L750.3 1323.5Z"/><path d="M746.7 1452.5L743.1 1444.5L750.3 1444.5Z"/></g>
<g fill="#00f01a" stroke="none"><rect x="767.6" y="1315" width="3.6" height="263"/><path d="M769.4 1315.5L765.4 1323.5L773.4 1323.5Z"/><path d="M769.4 1577.5L765.4 1569.5L773.4 1569.5Z"/></g>
</g>
<g fill="#111" stroke="#111" stroke-width="0.45" font-size="36" filter="url(#b2)">
<text transform="translate(273.2 1312.2) scale(1.03 1)" text-anchor="end">100</text>
<text transform="translate(263.2 1373.8) scale(1.03 1)" text-anchor="end">90</text>
<text transform="translate(263.2 1441) scale(1.03 1)" text-anchor="end">80</text>
<text transform="translate(263.2 1507.5) scale(1.03 1)" text-anchor="end">70</text>
<text transform="translate(263.2 1567.3) scale(1.03 1)" text-anchor="end">60</text>
<text transform="translate(263.2 1630) scale(1.03 1)" text-anchor="end">50</text>
<text transform="translate(263.2 1691.5) scale(1.03 1)" text-anchor="end">40</text>
<text transform="translate(332 1713.5) scale(1.04 1)" text-anchor="middle">200</text>
<text transform="translate(447.7 1713.5) scale(1.04 1)" text-anchor="middle">400</text>
<text transform="translate(562.2 1713.5) scale(1.04 1)" text-anchor="middle">600</text>
<text transform="translate(677.3 1713.5) scale(1.04 1)" text-anchor="middle">800</text>
<text transform="translate(798.3 1713.5) scale(1.04 1)" text-anchor="middle">1000</text>
</g>
<g filter="url(#b2)">
<text x="796.5" y="1356.5" font-size="32" fill="#0a0a0a" stroke="#0a0a0a" stroke-width="0.9">9%</text>
<text x="788.5" y="1407" font-size="32" fill="#ff1a1a" stroke="#ff1a1a" stroke-width="0.9">19%</text>
<text x="787.5" y="1452.7" font-size="32" fill="#1a1aff" stroke="#1a1aff" stroke-width="0.9">23%</text>
<text x="788" y="1519.6" font-size="31" fill="#00f01a" stroke="#00f01a" stroke-width="0.4" font-weight="bold">44%</text>
<path d="M291.8 1569.5H320.2" stroke="#0a0a0a" stroke-width="2.8" fill="none"/>
<text transform="translate(338.5 1578.3) scale(1.165 1)" font-size="31.5" font-weight="bold" fill="#0a0a0a">NPs</text>
<path d="M291.8 1597.9H320.2" stroke="#00f01a" stroke-width="4.6" fill="none"/>
<text transform="translate(338.5 1608.5) scale(1.165 1)" font-size="31.5" font-weight="bold" fill="#00f01a">NPs+FBS</text>
<path d="M291.8 1626.3H320.2" stroke="#ff1a1a" stroke-width="2.8" fill="none"/>
<text transform="translate(338.5 1638.8) scale(1.184 1)" font-size="31.5" font-weight="normal" fill="#ff1a1a" stroke="#ff1a1a" stroke-width="0.9">NPs+DMEM</text>
<path d="M291.8 1654.2H320.2" stroke="#1a1aff" stroke-width="2.8" fill="none"/>
<text transform="translate(338.5 1668.8) scale(1.184 1)" font-size="31.5" font-weight="normal" fill="#1a1aff" stroke="#1a1aff" stroke-width="0.9">NPs+DMEM+10%FBS</text>
</g>
<text transform="translate(524.9 1264.8) scale(1.045 1)" font-size="51.8" fill="#000">NP</text>
<text transform="translate(171 1466) scale(1.15 1) rotate(-90)" text-anchor="middle" font-size="50.3" fill="#111" filter="url(#b2)">Weight (%)</text>
</g>
<g>
<circle cx="986.3" cy="1322.0" r="2.3" fill="#b9dcf0"/>
<circle cx="986.3" cy="1383.3" r="2.3" fill="#b9dcf0"/>
<circle cx="986.3" cy="1443.9" r="2.3" fill="#b9dcf0"/>
<circle cx="986.3" cy="1503.8" r="2.3" fill="#b9dcf0"/>
<circle cx="986.3" cy="1564.4" r="2.3" fill="#b9dcf0"/>
<circle cx="986.3" cy="1624.1" r="2.3" fill="#b9dcf0"/>
<circle cx="986.3" cy="1683.0" r="2.3" fill="#b9dcf0"/>
<g filter="url(#b2)">
<rect x="998.7" y="1323.6" width="580" height="361.8" fill="none" stroke="#777" stroke-width="2.3"/>
<path d="M998.7 1323.6V1685.4" stroke="#555" stroke-width="3" fill="none"/>
<path d="M997.7 1685.4H1579.7" stroke="#555" stroke-width="2.6" fill="none"/>
<path d="M998.7 1353.4h4.5M998.7 1383.3h8.5M998.7 1413.6h4.5M998.7 1443.9h8.5M998.7 1473.8h4.5M998.7 1503.8h8.5M998.7 1534.1h4.5M998.7 1564.4h8.5M998.7 1594.2h4.5M998.7 1624.1h8.5M998.7 1654.8h4.5M998.7 1685.4h8.5M1056.9 1685.4v-9M1114.5 1685.4v-4M1172.1 1685.4v-9M1230 1685.4v-4M1287.9 1685.4v-9M1346.5 1685.4v-4M1405.1 1685.4v-9M1463.2 1685.4v-4M1521.4 1685.4v-9" stroke="#4a4a4a" stroke-width="2.6" fill="none"/>
</g>
<g fill="none" stroke-linejoin="round" stroke-linecap="butt" filter="url(#b2)">
<path d="M998.6 1324.8C1001.8 1324.9 1010.4 1325 1017.4 1325.7C1024.5 1326.4 1033.1 1326.9 1040.9 1328.8C1048.8 1330.6 1058.2 1333.6 1064.4 1337C1070.7 1340.3 1074.6 1344.8 1078.5 1348.7C1082.4 1352.6 1084.8 1356.9 1087.9 1360.5C1091 1364 1094.2 1366.3 1097.3 1369.9C1100.4 1373.4 1103.6 1376.9 1106.7 1381.6C1109.8 1386.3 1113 1393 1116.1 1398C1119.2 1403.1 1122.4 1408 1125.5 1412.1C1128.6 1416.2 1131.4 1419.4 1134.9 1422.7C1138.4 1426 1142.7 1429.4 1146.6 1432.1C1150.5 1434.8 1154.5 1436.8 1158.4 1439.1C1162.3 1441.5 1166.2 1444 1170.1 1446.2C1174 1448.4 1177.9 1450.4 1181.9 1452.5C1185.8 1454.7 1189.7 1456.8 1193.6 1459.1C1197.5 1461.5 1200.9 1461.9 1205.3 1466.6C1209.7 1471.3 1216.4 1479.9 1220 1487.3C1223.6 1494.7 1224.7 1503.3 1227 1510.8C1229.4 1518.2 1231.4 1524.9 1234.1 1531.9C1236.8 1539 1240.4 1546.4 1243.5 1553.1C1246.6 1559.7 1250.5 1568.3 1252.9 1571.9C1255.2 1575.5 1253.3 1574 1257.6 1574.7C1261.9 1575.4 1271.3 1575.7 1278.7 1576.1C1286.2 1576.5 1294.4 1576.4 1302.2 1577C1310 1577.7 1317.9 1578.8 1325.7 1580.1C1333.5 1581.4 1341.4 1583.4 1349.2 1584.8C1357 1586.1 1364.8 1587.7 1372.7 1588.3C1380.5 1588.9 1388.3 1588.6 1396.2 1588.3C1404 1588 1409.9 1587 1419.6 1586.4C1429.4 1585.8 1445.1 1585.2 1454.9 1584.8C1464.7 1584.4 1469.6 1584.3 1478.4 1584.1C1487.2 1583.8 1502.8 1583.3 1507.7 1583.1" stroke="#00f01a" stroke-width="4.6"/>
<path d="M998.6 1324.8C1003.7 1324.8 1020.2 1324.4 1029.2 1324.8C1038.2 1325.2 1046 1325.9 1052.7 1327.1C1059.3 1328.4 1064 1329.5 1069.1 1332.3C1074.2 1335.1 1079.3 1339.3 1083.2 1344C1087.1 1348.7 1089.5 1355.2 1092.6 1360.5C1095.7 1365.7 1098.9 1371.8 1102 1375.7C1105.1 1379.6 1107.9 1381.6 1111.4 1384C1114.9 1386.3 1119.2 1388.4 1123.1 1389.8C1127.1 1391.3 1131 1392 1134.9 1392.6C1138.8 1393.3 1142.7 1393.5 1146.6 1393.8C1150.5 1394.1 1148.6 1394.2 1158.4 1394.5C1168.2 1394.8 1195.1 1395.3 1205.3 1395.7C1215.6 1396.1 1205.8 1396.7 1220 1397.1C1234.2 1397.5 1270.9 1397.8 1290.5 1398C1310 1398.3 1325.7 1398.4 1337.4 1398.7C1349.2 1399.1 1353.1 1399.3 1360.9 1399.9C1368.8 1400.6 1376.6 1402 1384.4 1402.7C1392.2 1403.5 1400.1 1404 1407.9 1404.4C1415.7 1404.8 1423.6 1405 1431.4 1405.1C1439.2 1405.2 1442.2 1405 1454.9 1404.9C1467.6 1404.7 1498.9 1404.5 1507.7 1404.4" stroke="#ff1a1a" stroke-width="2.8"/>
<path d="M998.6 1324.8L1000.1 1324.7L1001.9 1325L1004.1 1324.7L1006.6 1324.8L1009.2 1324.8L1012 1324.9L1014.7 1325.3L1017.4 1325L1019.6 1325.4L1021.8 1325.4L1024.1 1325.7L1026.5 1326.3L1028.9 1326.2L1031.3 1326.6L1033.7 1326.8L1036.2 1327.3L1038.6 1327.6L1040.9 1327.9L1043.3 1328.5L1045.8 1329L1048.3 1329.8L1050.8 1330.2L1053.3 1330.6L1055.7 1331.5L1058.1 1332L1060.3 1332.9L1062.4 1333.6L1064.4 1334.6L1067.4 1336.5L1070 1338.2L1072.3 1340.3L1074.5 1342.4L1076.5 1344.4L1078.5 1346.5L1081.2 1349.2L1083.6 1352.3L1085.8 1355.3L1087.9 1357.9L1090.3 1362.2L1092.5 1365.7L1095 1369.6L1097.1 1373.1L1099.5 1377L1101.9 1380.4L1104.3 1383.9L1106.7 1386.7L1109.2 1389.4L1111.6 1391.5L1113.7 1393.6L1116.4 1395.3L1118.7 1396.4L1120.8 1397.8L1123.5 1398.4L1125.5 1399.5L1125.9 1402.1L1126.7 1405.4L1128.1 1406.2L1130.1 1407.4L1132.4 1409L1134.9 1409.5L1137 1410.9L1139.3 1411.8L1141.8 1412.3L1144.2 1413.1L1146.6 1414.3L1148.8 1414.9L1150.8 1415.4L1152.8 1415.7L1155.3 1416.2L1158.4 1416.2L1160.2 1416.2L1162.3 1416.8L1164.6 1417L1166.9 1417.2L1169.4 1417L1171.9 1416.8L1174.4 1417L1177 1417.3L1179.5 1417.3L1181.9 1417.3L1184.2 1417.5L1186.7 1417.8L1189.2 1417.7L1191.7 1417.8L1194.2 1418L1196.6 1418L1198.9 1418.6L1201.2 1418.7L1203.4 1418.4L1205.3 1418.8L1208.2 1419.1L1210.6 1418.8L1212.7 1419L1214.8 1419.4L1217.1 1419.4L1220 1419.3L1222 1419.3L1224.1 1419.1L1226.4 1418.8L1228.8 1418.9L1231.2 1418.8L1233.7 1418.2L1236.2 1418.2L1238.6 1418.1L1241.1 1418.3L1243.5 1417.9L1245.7 1418.1L1247.8 1417.9L1249.8 1417.8L1251.8 1417.8L1253.8 1418.1L1255.9 1417.9L1258.2 1417.8L1260.8 1417.7L1263.7 1417.8L1267 1418L1268.9 1418.1L1271 1418.4L1273.3 1418.1L1275.7 1418.5L1278.3 1418.6L1280.9 1418.4L1283.6 1418.3L1286.3 1418.4L1289.1 1418.9L1291.9 1418.6L1294.6 1419L1297.4 1419.1L1300.1 1418.9L1302.7 1418.9L1305.2 1419.4L1307.6 1419.2L1309.9 1419.6L1312 1420L1314 1419.9L1317.3 1420L1320.2 1420.2L1322.7 1420.6L1325 1420.9L1327.2 1421.1L1329.2 1421.8L1331.1 1422.2L1333.1 1422.6L1335.2 1422.7L1337.4 1423.3L1339.8 1424.2L1342.1 1424.2L1344.5 1424.9L1346.8 1425.8L1349.2 1426.1L1351.5 1426.7L1353.9 1427.6L1356.2 1428.1L1358.6 1428.9L1360.9 1429.7L1363.3 1430.5L1365.8 1431.6L1368.3 1432.7L1370.9 1433.7L1373.4 1434.9L1375.9 1435.4L1378.2 1436.5L1380.5 1437.9L1382.5 1438.6L1384.4 1439.3L1387.5 1440.1L1390 1440.9L1392 1441.6L1394 1442.4L1396.2 1442.8L1398.3 1443L1400.3 1443.6L1402.4 1443.9L1404.8 1443.8L1407.9 1443.8L1409.8 1444.3L1411.8 1444.3L1414.1 1444.4L1416.5 1444.3L1418.9 1444.1L1421.4 1444.3L1424 1444.1L1426.5 1444.4L1429 1443.9L1431.4 1444.2L1433.6 1444L1435.6 1444.3L1437.5 1444.2L1439.4 1443.8L1441.3 1443.7L1443.4 1443.8L1445.7 1444.2L1448.3 1444.1L1451.3 1444L1454.9 1443.7L1456.8 1443.6L1459 1443.8L1461.4 1443.8L1463.9 1443.8L1466.6 1443.4L1469.4 1443.9L1472.3 1443.5L1475.2 1443.7L1478.2 1443.4L1481.3 1443.4L1484.3 1443.7L1487.2 1443.2L1490.1 1443.4L1492.9 1443.6L1495.6 1443.5L1498.2 1443.4L1500.5 1443.1L1502.7 1443.3L1504.6 1443.2L1506.3 1443L1507.7 1443.3" stroke="#1a1aff" stroke-width="3.2"/>
<path d="M998.6 1324.8C1005.7 1324.8 1030 1324.3 1040.9 1324.8C1051.9 1325.2 1058.2 1326.1 1064.4 1327.6C1070.7 1329 1074.6 1330.9 1078.5 1333.5C1082.4 1336 1085.4 1339.1 1087.9 1342.8C1090.4 1346.6 1092 1350.5 1093.8 1355.8C1095.5 1361.1 1097.1 1367.9 1098.5 1374.6C1099.8 1381.2 1100.8 1387.9 1102 1395.7C1103.2 1403.5 1104.3 1411.7 1105.5 1421.5C1106.7 1431.3 1107.9 1443.1 1109 1454.4C1110.2 1465.8 1111.4 1477.9 1112.6 1489.6C1113.7 1501.4 1114.9 1513.1 1116.1 1524.9C1117.3 1536.6 1118.4 1549.5 1119.6 1560.1C1120.8 1570.7 1121.8 1579.7 1123.1 1588.3C1124.5 1596.9 1126.3 1605.1 1127.8 1611.8C1129.4 1618.4 1131 1623.1 1132.5 1628.2C1134.1 1633.3 1135.7 1638.4 1137.2 1642.3C1138.8 1646.2 1140 1649.4 1141.9 1651.7C1143.9 1654 1146.2 1655 1149 1655.9C1151.7 1656.8 1152.9 1656.6 1158.4 1657.1C1163.8 1657.6 1171.6 1658.2 1181.9 1658.8C1192.1 1659.3 1205.8 1660.1 1220 1660.6C1234.2 1661.2 1243.5 1661.8 1267 1662.3C1290.5 1662.8 1329.6 1663.3 1360.9 1663.5C1392.2 1663.7 1430.4 1663.5 1454.9 1663.5C1479.3 1663.4 1498.9 1663.1 1507.7 1663" stroke="#0a0a0a" stroke-width="2.8"/>
</g>
<g filter="url(#b2)">
<g fill="#ff1a1a" stroke="none"><rect x="1426" y="1323.6" width="2.8" height="80.8"/><path d="M1427.4 1324.1L1423.8 1332.1L1431 1332.1Z"/><path d="M1427.4 1403.9L1423.8 1395.9L1431 1395.9Z"/></g>
<g fill="#1a1aff" stroke="none"><rect x="1451.9" y="1323.6" width="2.8" height="119.6"/><path d="M1453.3 1324.1L1449.7 1332.1L1456.9 1332.1Z"/><path d="M1453.3 1442.7L1449.7 1434.7L1456.9 1434.7Z"/></g>
<g fill="#00f01a" stroke="none"><rect x="1475.2" y="1323.6" width="5" height="260.1"/><path d="M1477.7 1324.1L1473 1332.1L1482.4 1332.1Z"/><path d="M1477.7 1583.2L1473 1575.2L1482.4 1575.2Z"/></g>
<g fill="#0a0a0a" stroke="none"><rect x="1501.2" y="1323.6" width="2.8" height="339.4"/><path d="M1502.6 1324.1L1499 1332.1L1506.2 1332.1Z"/><path d="M1502.6 1662.5L1499 1654.5L1506.2 1654.5Z"/></g>
</g>
<g fill="#111" stroke="#111" stroke-width="0.45" font-size="36" filter="url(#b2)">
<text transform="translate(987.7 1317) scale(1.03 1)" text-anchor="end">100</text>
<text transform="translate(979.8 1378.8) scale(1.03 1)" text-anchor="end">90</text>
<text transform="translate(979.8 1444.6) scale(1.03 1)" text-anchor="end">80</text>
<text transform="translate(979.8 1512.7) scale(1.03 1)" text-anchor="end">70</text>
<text transform="translate(979.8 1572.9) scale(1.03 1)" text-anchor="end">60</text>
<text transform="translate(979.8 1636.4) scale(1.03 1)" text-anchor="end">50</text>
<text transform="translate(979.8 1698.5) scale(1.03 1)" text-anchor="end">40</text>
<text transform="translate(1057.4 1721.6) scale(1.04 1)" text-anchor="middle">200</text>
<text transform="translate(1172.5 1721.6) scale(1.04 1)" text-anchor="middle">400</text>
<text transform="translate(1287 1721.6) scale(1.04 1)" text-anchor="middle">600</text>
<text transform="translate(1402.4 1721.6) scale(1.04 1)" text-anchor="middle">800</text>
<text transform="translate(1524.2 1721.6) scale(1.04 1)" text-anchor="middle">1000</text>
</g>
<g filter="url(#b2)">
<text x="1511.5" y="1388.7" font-size="32" fill="#ff1a1a" stroke="#ff1a1a" stroke-width="0.9">14%</text>
<text x="1511.5" y="1446.2" font-size="32" fill="#1a1aff" stroke="#1a1aff" stroke-width="0.9">20%</text>
<text x="1511" y="1531.5" font-size="31" fill="#00f01a" stroke="#00f01a" stroke-width="0.4" font-weight="bold">43%</text>
<text x="1511.5" y="1628.3" font-size="32" fill="#0a0a0a" stroke="#0a0a0a" stroke-width="0.9">57%</text>
</g>
<text transform="translate(1217 1264) scale(1.045 1)" font-size="51.8" fill="#000">NP-D</text>
</g>
<g>
<g filter="url(#b2)">
<rect x="1706.9" y="1324.8" width="577.3" height="362.2" fill="none" stroke="#777" stroke-width="2.3"/>
<path d="M1706.9 1324.8V1687" stroke="#555" stroke-width="3" fill="none"/>
<path d="M1705.9 1687H2285.2" stroke="#555" stroke-width="2.6" fill="none"/>
<path d="M1706.9 1354.6h4.5M1706.9 1384.4h8.5M1706.9 1414.8h4.5M1706.9 1445.1h8.5M1706.9 1475.2h4.5M1706.9 1505.4h8.5M1706.9 1535.7h4.5M1706.9 1566h8.5M1706.9 1596.2h4.5M1706.9 1626.4h8.5M1706.9 1656.7h4.5M1706.9 1687h8.5M1764 1687v-9M1821.8 1687v-4M1879.6 1687v-9M1937.3 1687v-4M1995 1687v-9M2052.7 1687v-4M2110.4 1687v-9M2168.2 1687v-4M2226 1687v-9" stroke="#4a4a4a" stroke-width="2.6" fill="none"/>
</g>
<g fill="none" stroke-linejoin="round" stroke-linecap="butt" filter="url(#b2)">
<path d="M1706.9 1326.6L1708.4 1327L1710.3 1326.9L1712.7 1327L1715.3 1325L1718 1326.9L1720.7 1325.5L1723.3 1326L1725.7 1326L1728.2 1326.6L1730.6 1324.8L1733 1325.3L1735.4 1326.7L1737.7 1326.7L1739.9 1327.7L1742.1 1327.2L1744.6 1329.8L1747 1327.9L1749.3 1331.2L1751.6 1331.4L1753.9 1331.7L1756.2 1335.2L1758.6 1334.9L1761 1337.3L1763.4 1339.5L1765.8 1341.1L1768.1 1343.2L1770.3 1345.1L1772.9 1350L1775.3 1350.5L1777.7 1353.5L1779.9 1356.2L1782.1 1361.7L1784.6 1364.4L1786.9 1369.2L1789.2 1373.8L1791.5 1376.9L1793.9 1381.5L1796.3 1386.8L1798.7 1391.9L1800.9 1398.3L1803.4 1406.3L1805.6 1411.8L1807.9 1420L1810.3 1428.6L1812.7 1437.2L1815 1445.5L1817 1454L1819 1461.4L1820.8 1470.5L1823.3 1483.1L1825.5 1491.8L1827.3 1501.1L1829 1507.7L1831.3 1517.3L1833.7 1524L1835.9 1530.7L1838.4 1535.2L1840.6 1536.6L1843 1542.5L1845.5 1544.8L1847.8 1551.3L1850.2 1552.9L1852.5 1556.6L1854.8 1563L1857.1 1566.2L1859.6 1568L1861.8 1571.8L1864.1 1575L1866.6 1574.9L1869 1578.5L1871.3 1578.8L1873.5 1580.8L1875.9 1582L1878.4 1582.3L1880.5 1584.1L1882.7 1585.3L1885 1586.2L1887.5 1586.6L1890.1 1586.1L1892.1 1587.9L1894.1 1587.4L1896.2 1589.7L1898.4 1587.7L1900.8 1590.2L1903.3 1588.5L1906 1590.4L1908 1590L1910.2 1590.6L1912.5 1591.6L1914.8 1592.2L1917.3 1590.1L1919.7 1593L1922.2 1592.6L1924.7 1591.2L1927.1 1593.3L1929.5 1593.9L1931.8 1592.9L1934.2 1594.8L1936.5 1593L1938.9 1594.2L1941.2 1594L1943.6 1596.1L1945.9 1594.9L1948.3 1595.1L1950.6 1597.7L1953 1596.3L1955.3 1596.7L1957.7 1597.8L1960 1596.5L1962.4 1598.7L1964.7 1598.7L1967.1 1598.4L1969.4 1599.6L1971.8 1600.1L1974.1 1598.1L1976.5 1601L1978.8 1599.9L1981.2 1601L1983.5 1601L1985.9 1602.1L1988.2 1601.8L1990.6 1600.5L1992.9 1600.5L1995.3 1601.6L1997.6 1601.4L2000 1601.6L2002.3 1602.8L2004.6 1602.9L2007 1602.8L2009.3 1604.2L2011.7 1602.6L2014 1603.7L2016.4 1603.9L2018.7 1604.7L2021.1 1605.6L2023.4 1605L2025.8 1603.4L2028.1 1605.4L2030.5 1604.9L2032.8 1605.3L2035.2 1605.9L2037.5 1605L2039.9 1606.9L2042.2 1605.7L2044.6 1605.9L2046.9 1606.5L2049.3 1605.1L2051.6 1606.1L2054 1608.2L2056.3 1605.6L2058.7 1606.5L2061 1607.7L2063.4 1606.9L2065.7 1607.4L2068.1 1608.1L2070.4 1608.1L2072.8 1606.9L2075.1 1606.7L2077.5 1605.7L2079.8 1607.8L2082.2 1606L2084.5 1607L2086.9 1605.9L2089.2 1607.8L2091.6 1606.9L2093.9 1605.9L2096.3 1607.4L2098.6 1605.9L2101 1606.8L2103.3 1606.7L2105.6 1608.2L2108 1607.8L2110.3 1606.6L2112.7 1607.1L2115 1607.4L2117.4 1608.6L2119.7 1607.1L2122.1 1608.2L2124.4 1606L2126.8 1606.1L2129.1 1607.9L2131.5 1606.5L2133.8 1605.4L2136.2 1605.8L2138.5 1606.4L2140.9 1605.4L2143.2 1606.3L2145.6 1608.2L2147.9 1605.5L2150.3 1606.5L2152.6 1606.5L2155 1606.1L2157.3 1608.6L2159.7 1606.7L2162 1606.6L2164.4 1607.4L2166.7 1606.3L2169.1 1607.5L2171.5 1606.7L2173.9 1607.6L2176.3 1606.6L2178.6 1608.7L2181 1607.6L2183.3 1608L2185.6 1606.7L2187.9 1606.2L2190.4 1606.7L2193.1 1607.5L2195.9 1605.9L2198.6 1606.4L2201.2 1608.6L2203.6 1606.6L2205.8 1606.2L2207.6 1608.1L2209 1606.4" stroke="#0a0a0a" stroke-width="4.4"/>
<path d="M1706.9 1326.4C1711.2 1326.2 1723.7 1324.6 1732.7 1325.2C1741.7 1325.8 1753.1 1327.8 1760.9 1329.9C1768.8 1332.1 1774.2 1334.8 1779.7 1338.2C1785.2 1341.5 1789.1 1345.8 1793.8 1349.9C1798.5 1354 1803.6 1358.9 1807.9 1362.8C1812.2 1366.7 1815.7 1370.3 1819.6 1373.4C1823.6 1376.4 1827.5 1378.9 1831.4 1381.1C1835.3 1383.4 1839.2 1384.9 1843.1 1386.8C1847.1 1388.6 1851 1390.4 1854.9 1392.2C1858.8 1394 1862.7 1395.9 1866.6 1397.6C1870.5 1399.3 1874.5 1400.7 1878.4 1402.3C1882.3 1403.8 1885.5 1405.4 1890.1 1407C1894.7 1408.5 1901.4 1410 1906 1411.7C1910.6 1413.3 1915 1415.2 1917.7 1416.8C1920.5 1418.5 1920.9 1419.2 1922.4 1421.5C1924 1423.9 1925.6 1427.8 1927.1 1430.9C1928.7 1434.1 1930.3 1438.2 1931.8 1440.3C1933.4 1442.5 1933 1443.2 1936.5 1443.8C1940.1 1444.5 1942.4 1444 1953 1444.3C1963.5 1444.6 1984.3 1445.1 2000 1445.5C2015.6 1445.9 2035.2 1446.4 2046.9 1446.9C2058.7 1447.4 2062.6 1447.8 2070.4 1448.5C2078.2 1449.3 2088 1450.9 2093.9 1451.6C2099.8 1452.3 2101.7 1452.4 2105.6 1452.5C2109.6 1452.7 2111.5 1452.7 2117.4 1452.5C2123.3 1452.4 2129.1 1451.9 2140.9 1451.6C2152.6 1451.3 2175.7 1450.9 2187.9 1450.9C2200 1450.9 2209.4 1451.5 2213.7 1451.6" stroke="#00f01a" stroke-width="4"/>
<path d="M1706.9 1326.4C1712 1326.2 1728.4 1324.6 1737.4 1325.2C1746.4 1325.8 1753.9 1327.8 1760.9 1329.9C1768 1332.1 1774.2 1335 1779.7 1338.2C1785.2 1341.3 1789.1 1345.4 1793.8 1348.7C1798.5 1352 1803.6 1355.7 1807.9 1358.1C1812.2 1360.5 1815.7 1361.9 1819.6 1363.3C1823.6 1364.7 1827.5 1365.5 1831.4 1366.3C1835.3 1367.2 1839.2 1367.7 1843.1 1368.2C1847.1 1368.7 1849 1369 1854.9 1369.4C1860.8 1369.8 1869.8 1370.2 1878.4 1370.6C1886.9 1371 1893.6 1371.4 1906 1371.7C1918.4 1372.1 1937.3 1372.3 1953 1372.7C1968.6 1373.1 1984.3 1373.7 2000 1374.1C2015.6 1374.5 2035.2 1374.5 2046.9 1375C2058.7 1375.6 2062.6 1376.7 2070.4 1377.4C2078.2 1378 2086.1 1378.5 2093.9 1378.8C2101.7 1379 2109.6 1378.9 2117.4 1378.8C2125.2 1378.7 2133.1 1378.2 2140.9 1378.1C2148.7 1378 2152.2 1378.1 2164.4 1378.1C2176.5 1378.1 2205.5 1378.1 2213.7 1378.1" stroke="#ff1a1a" stroke-width="2.8"/>
<path d="M1706.9 1326.4C1711.2 1326.2 1724.5 1324.7 1732.7 1325.2C1741 1325.7 1749.2 1327.5 1756.2 1329.5C1763.3 1331.4 1769.5 1334.2 1775 1337C1780.5 1339.8 1784.4 1342.7 1789.1 1346.4C1793.8 1350.1 1798.9 1355 1803.2 1359.3C1807.5 1363.6 1811.4 1368.5 1815 1372.2C1818.5 1375.9 1821.2 1378.9 1824.3 1381.6C1827.5 1384.3 1830.6 1386.2 1833.7 1388.2C1836.9 1390.1 1839.6 1391.4 1843.1 1393.3C1846.7 1395.3 1851.4 1397.9 1854.9 1399.9C1858.4 1402 1861.1 1403.7 1864.3 1405.6C1867.4 1407.4 1870.5 1409.7 1873.7 1411C1876.8 1412.3 1877.7 1412.4 1883.1 1413.3C1888.5 1414.2 1894.3 1415.6 1906 1416.4C1917.7 1417.1 1937.3 1417.3 1953 1418C1968.6 1418.7 1988.2 1419.6 2000 1420.4C2011.7 1421.1 2015.6 1421.7 2023.4 1422.7C2031.3 1423.7 2039.9 1424.7 2046.9 1426.2C2054 1427.8 2060.2 1430.5 2065.7 1432.1C2071.2 1433.7 2075.1 1434.8 2079.8 1435.6C2084.5 1436.4 2087.6 1436.6 2093.9 1436.8C2100.2 1437 2105.6 1436.8 2117.4 1436.8C2129.1 1436.8 2148.3 1436.8 2164.4 1436.8C2180.4 1436.8 2205.5 1437 2213.7 1437" stroke="#1a1aff" stroke-width="3.2"/>
</g>
<g filter="url(#b2)">
<g fill="#ff1a1a" stroke="none"><rect x="2140.2" y="1324.8" width="2.8" height="53.3"/><path d="M2141.6 1325.3L2138 1333.3L2145.2 1333.3Z"/><path d="M2141.6 1377.6L2138 1369.6L2145.2 1369.6Z"/></g>
<g fill="#1a1aff" stroke="none"><rect x="2163.7" y="1324.8" width="2.8" height="112"/><path d="M2165.1 1325.3L2161.5 1333.3L2168.7 1333.3Z"/><path d="M2165.1 1436.3L2161.5 1428.3L2168.7 1428.3Z"/></g>
<g fill="#00f01a" stroke="none"><rect x="2187.8" y="1324.8" width="5" height="126.8"/><path d="M2190.3 1325.3L2185.6 1333.3L2195 1333.3Z"/><path d="M2190.3 1451.1L2185.6 1443.1L2195 1443.1Z"/></g>
<g fill="#0a0a0a" stroke="none"><rect x="2207.7" y="1324.8" width="2.8" height="282.4"/><path d="M2209.1 1325.3L2205.5 1333.3L2212.7 1333.3Z"/><path d="M2209.1 1606.7L2205.5 1598.7L2212.7 1598.7Z"/></g>
</g>
<g fill="#111" stroke="#111" stroke-width="0.45" font-size="36" filter="url(#b2)">
<text transform="translate(1696.4 1319.8) scale(1.03 1)" text-anchor="end">100</text>
<text transform="translate(1685.8 1382.1) scale(1.03 1)" text-anchor="end">90</text>
<text transform="translate(1685.8 1447.9) scale(1.03 1)" text-anchor="end">80</text>
<text transform="translate(1685.8 1514.9) scale(1.03 1)" text-anchor="end">70</text>
<text transform="translate(1685.8 1575.1) scale(1.03 1)" text-anchor="end">60</text>
<text transform="translate(1685.8 1637.6) scale(1.03 1)" text-anchor="end">50</text>
<text transform="translate(1685.8 1699.7) scale(1.03 1)" text-anchor="end">40</text>
<text transform="translate(1763.3 1723.5) scale(1.04 1)" text-anchor="middle">200</text>
<text transform="translate(1877.3 1723.5) scale(1.04 1)" text-anchor="middle">400</text>
<text transform="translate(1992.9 1723.5) scale(1.04 1)" text-anchor="middle">600</text>
<text transform="translate(2108 1723.5) scale(1.04 1)" text-anchor="middle">800</text>
<text transform="translate(2230.2 1723.5) scale(1.04 1)" text-anchor="middle">1000</text>
</g>
<g filter="url(#b2)">
<text x="2225.5" y="1358" font-size="32" fill="#ff1a1a" stroke="#ff1a1a" stroke-width="0.9">9%</text>
<text x="2217" y="1414.5" font-size="32" fill="#1a1aff" stroke="#1a1aff" stroke-width="0.9">19%</text>
<text x="2216.5" y="1463.9" font-size="31" fill="#00f01a" stroke="#00f01a" stroke-width="0.4" font-weight="bold">21%</text>
<text x="2216.5" y="1558" font-size="32" fill="#0a0a0a" stroke="#0a0a0a" stroke-width="0.9">47%</text>
</g>
<text transform="translate(1905.5 1264) scale(1.045 1)" font-size="51.8" fill="#000">NP-AD</text>
</g>
<g>
<g filter="url(#b2)">
<rect x="275.5" y="1865.8" width="571" height="374.2" fill="none" stroke="#777" stroke-width="2.3"/>
<path d="M275.5 1865.8V2240" stroke="#555" stroke-width="3" fill="none"/>
<path d="M274.5 2240H847.5" stroke="#555" stroke-width="2.6" fill="none"/>
<path d="M275.5 1896.9h4.5M275.5 1928.1h8.5M275.5 1959.2h4.5M275.5 1990.4h8.5M275.5 2021.9h4.5M275.5 2053.3h8.5M275.5 2084.1h4.5M275.5 2114.9h8.5M275.5 2146.6h4.5M275.5 2178.3h8.5M275.5 2209.2h4.5M275.5 2240h8.5M332.6 2240v-9M389.8 2240v-4M447 2240v-9M504 2240v-4M561 2240v-9M617.8 2240v-4M674.5 2240v-9M731.8 2240v-4M789 2240v-9" stroke="#4a4a4a" stroke-width="2.6" fill="none"/>
</g>
<g fill="none" stroke-linejoin="round" stroke-linecap="butt" filter="url(#b2)">
<path d="M275.5 1870L276.8 1868.5L278.5 1867.9L281 1868.8L284.4 1867.3L286.2 1867.1L288.2 1867.7L290.4 1867.1L292.8 1867.8L295.2 1866.8L297.8 1867.7L300.4 1866.8L303 1867.1L305.5 1867.6L307.9 1867.3L310.3 1867.7L312.7 1867.4L315.1 1866.6L317.5 1867.9L319.9 1867.7L322.3 1867.4L324.7 1867.5L327 1868.6L329.2 1868.5L331.4 1869.3L334 1869.4L336.5 1870L339 1869.8L341.4 1870.4L343.7 1870.8L345.9 1870.9L348.1 1872.6L350.2 1872.6L352.9 1874.8L355.4 1876.8L357.8 1878.4L360.1 1879.8L362.3 1882.9L364.3 1884.9L367 1887.5L369.3 1890.7L371.4 1894.9L373.7 1897.6L376 1902.3L378.4 1905.2L380.7 1908.6L383.1 1911.5L385.4 1914.6L387.8 1917.4L390.1 1918.7L392.5 1920.9L394.8 1923L397 1924.1L399.3 1926L401.9 1927.4L404.1 1928.6L406.4 1930.2L408.8 1931.2L411.2 1931.8L413.6 1934.2L415.9 1934.2L418.3 1935.2L420.6 1936L423 1937.4L425.3 1938.1L427.7 1938.1L430 1938.5L432.4 1938.5L434.7 1940L437.1 1939.4L439.1 1940.2L440.9 1940.2L442.7 1940.4L445.2 1940.6L448.8 1940.6L450.7 1940.4L452.7 1941.1L454.9 1941.5L457.2 1941.3L459.6 1940.7L462.2 1941.4L464.9 1940.5L467.7 1941L470.6 1941.6L473.7 1941.8L476.8 1941.3L480 1942L482.1 1941.6L484.3 1941.7L486.5 1941.9L488.9 1942.6L491.2 1942.4L493.7 1942.2L496.1 1942.8L498.7 1942.8L501.2 1942.6L503.8 1943.4L506.4 1943.6L509 1943.5L511.6 1944.1L514.2 1943L516.8 1943.9L519.4 1944.2L522 1944L524.5 1943.9L527 1944.8L529.4 1944.6L531.9 1944.5L534.4 1944.3L536.9 1945.7L539.3 1945L541.8 1944.8L544.3 1945.1L546.8 1945.3L549.2 1946.3L551.7 1945.4L554.2 1945.7L556.6 1945.6L559.1 1946.2L561.6 1945.9L564.1 1946.2L566.5 1946.9L569 1947.3L571.5 1947.2L574 1946.2L576.4 1946.8L578.9 1947.5L581.4 1946.5L583.8 1946.8L586.3 1947.2L588.8 1947.1L591.3 1947.7L593.7 1947.7L596.2 1947.4L598.7 1947.1L601.1 1947.2L603.6 1947.2L606.1 1947L608.6 1947.9L611 1947.3L613.5 1948.4L616 1948.1L618.5 1947.3L620.9 1948L623.4 1948.3L626 1947.6L628.6 1948.3L631.2 1947.8L633.9 1949L636.6 1948L639.2 1949L641.9 1949.7L644.6 1949.6L647.2 1948.9L649.8 1949.5L652.3 1949L654.8 1949.5L657.2 1950.3L659.6 1950.4L661.8 1949.4L663.9 1950L666 1950.5L667.9 1949.9L671.2 1951L674.1 1951.3L676.7 1951L679 1950.9L681.1 1951.7L683.1 1951.4L685.1 1951.1L687.1 1951.3L689.1 1951.2L691.4 1952.3L693.6 1951.9L695.5 1952.2L697.2 1952.4L698.9 1952.6L700.7 1951.5L702.7 1951.8L705 1952.4L707.7 1952.2L711 1951.7L714.9 1952L716.8 1951.4L718.9 1951.3L721.2 1951.2L723.7 1951.6L726.4 1951.4L729.2 1951.8L732.1 1952.4L735.1 1951.2L738.1 1951.8L741.2 1952.2L744.3 1951.8L747.5 1951.7L750.6 1952L753.6 1951L756.6 1952.3L759.6 1951.9L762.4 1952.1L765 1952.1L767.6 1951L769.9 1951L772.1 1951.1L774 1951.6L775.7 1952.2L777.1 1952.1" stroke="#00f01a" stroke-width="5.2"/>
<path d="M275.5 1867.7C280.9 1867.7 298.6 1867.3 307.9 1867.7C317.2 1868.1 324.3 1868.8 331.4 1870.1C338.4 1871.3 344.7 1872.4 350.2 1875.2C355.7 1878.1 360.4 1883.1 364.3 1887C368.2 1890.9 370.5 1894.8 373.7 1898.7C376.8 1902.6 379.9 1907.1 383.1 1910.5C386.2 1913.8 389.3 1916.3 392.5 1918.7C395.6 1921 398.3 1922.7 401.9 1924.6C405.4 1926.4 409.7 1928.5 413.6 1930C417.5 1931.4 421.4 1932.2 425.3 1933C429.3 1933.8 433.2 1934.2 437.1 1934.7C441 1935.1 441.7 1935.4 448.8 1935.6C456 1935.8 467 1935.4 480 1935.8C493 1936.3 511.3 1937.5 527 1938.2C542.6 1938.8 558.3 1939.4 574 1939.8C589.6 1940.3 609.2 1940.4 620.9 1941C632.7 1941.6 636.6 1942.5 644.4 1943.3C652.2 1944.2 660.1 1945.5 667.9 1946.2C675.7 1946.8 683.6 1946.9 691.4 1947.1C699.2 1947.3 700.6 1947.1 714.9 1947.1C729.2 1947.1 766.7 1947.1 777.1 1947.1" stroke="#1a1aff" stroke-width="3"/>
<path d="M275.5 1868.1L276.9 1867.4L278.8 1867.3L280.9 1868.1L283.4 1867.4L286 1867.3L288.8 1867.7L291.7 1867.5L294.6 1867.9L297.5 1867.4L300.4 1868L303.1 1867.5L305.6 1867.7L307.9 1868.1L310.6 1867.9L313.2 1868.2L315.8 1868.1L318.2 1867.7L320.5 1868.5L322.8 1868.4L325 1868.4L327.1 1868.5L329.3 1869.3L331.4 1869.4L334 1870.2L336.5 1870.6L339 1871.3L341.4 1871.7L343.7 1872.5L345.9 1873.2L348.1 1873.7L350.2 1875.1L352.8 1875.9L355.2 1877.7L357.5 1879.3L359.8 1880.6L362 1881.7L364.3 1883.7L366.7 1885L369.1 1886.1L371.5 1887.5L373.8 1889.2L376.2 1890.1L378.4 1892L380.9 1892.9L383.2 1893.9L385.5 1894.8L387.8 1895.8L390.1 1896.7L392.6 1896.8L395.2 1897.4L397.7 1898L400 1898.2L401.9 1898.8L404.1 1900L405.4 1900.5L406.3 1899.9L408.9 1898.7L410.5 1898.4L412.5 1899.1L414.7 1898.7L417.1 1898.9L419.8 1899L422.5 1899.6L425.3 1899.8L427.4 1899.5L429.5 1899.5L431.6 1899.4L433.9 1900.2L436.2 1899.7L438.5 1900.1L441 1900.1L443.5 1900.2L446.1 1900.3L448.8 1900.4L451.1 1900.4L453.4 1900.9L455.7 1901.2L458.1 1901.3L460.5 1901.1L462.9 1901.6L465.5 1901.2L468.2 1901.7L470.9 1902.1L473.8 1902.4L476.8 1902.1L480 1902.5L482.1 1902.3L484.3 1902.4L486.5 1902.5L488.9 1902.9L491.2 1902.7L493.7 1902.5L496.1 1902.8L498.7 1902.7L501.2 1902.5L503.8 1902.9L506.4 1903L509 1902.8L511.6 1903.1L514.2 1902.4L516.8 1902.8L519.4 1903L522 1902.8L524.5 1902.7L527 1903.1L529.5 1902.9L532 1902.8L534.5 1902.7L537 1903.4L539.6 1903L542.1 1902.8L544.7 1902.9L547.2 1903L549.8 1903.5L552.3 1903L554.8 1903.1L557.3 1902.9L559.8 1903.3L562.3 1903.1L564.7 1903.2L567.1 1903.5L569.4 1903.7L571.7 1903.7L574 1903L576.8 1903.3L579.6 1903.7L582.4 1903.1L585.1 1903.2L587.9 1903.5L590.6 1903.4L593.2 1903.7L595.8 1903.7L598.3 1903.5L600.7 1903.3L603.1 1903.4L605.4 1903.4L607.5 1903.3L609.6 1903.9L611.5 1903.6L614.8 1904.5L617.6 1904.6L620 1904.5L622.1 1905.3L624.1 1905.8L626.1 1905.8L628.1 1906.5L630.3 1906.6L632.7 1907.5L635 1907.3L637.4 1908.3L639.7 1908.9L642.1 1909.2L644.4 1909.1L646.8 1909.7L649.1 1909.7L651.4 1910.1L653.7 1910.8L656 1911L658.2 1910.6L660.5 1911.1L662.9 1911.4L665.3 1911.2L667.9 1911.9L670.1 1912.1L672.3 1911.9L674.6 1911.9L677 1912.3L679.4 1912.1L681.8 1912L684.2 1912.1L686.6 1912L689 1912.6L691.4 1912.4L693.6 1912.5L695.5 1912.5L697.2 1912.6L698.9 1911.9L700.7 1912L702.7 1912.3L705 1912.1L707.7 1911.7L711 1911.8L714.9 1911.4L716.8 1911.3L718.9 1911.2L721.2 1911.5L723.7 1911.3L726.4 1911.5L729.2 1911.9L732.1 1911.2L735.1 1911.5L738.1 1911.7L741.2 1911.5L744.3 1911.4L747.5 1911.6L750.6 1911L753.6 1911.7L756.6 1911.4L759.6 1911.5L762.4 1911.5L765 1910.9L767.6 1910.9L769.9 1911L772.1 1911.2L774 1911.5L775.7 1911.5L777.1 1911.1" stroke="#ff1a1a" stroke-width="3"/>
<path d="M275.5 1867.1L276.9 1867.5L278.8 1867L280.9 1867.4L283.4 1867.7L286 1867.9L288.8 1866.9L291.7 1867.1L294.6 1866.7L297.5 1868.1L300.4 1867L303.1 1868.3L305.6 1866.6L307.9 1866.6L310.7 1867.8L313.3 1868.1L315.9 1869.1L318.4 1869.7L320.8 1869.4L323.1 1869.3L325.3 1870.7L327.4 1870.6L329.5 1870.7L331.4 1871.3L334.3 1871.5L337 1874L339.3 1873.5L341.5 1874.9L343.5 1876.8L345.5 1877.8L348.2 1879.3L350.6 1880.7L352.8 1882.5L354.9 1884.4L357.4 1886.8L359.7 1888.2L361.9 1891.3L364.3 1895L366.7 1900.4L369 1905L371.1 1912.5L373 1918.3L374.8 1924L377.3 1935.8L379.5 1948.5L381.9 1962.4L384.2 1981.6L386.7 2002.1L388.9 2023.1L390.8 2044.6L392.5 2062.2L394.2 2080.3L396 2098.9L397.7 2114.6L399.5 2127.8L401.8 2142.8L404.2 2154.9L406.6 2164.6L408.9 2172.7L411.2 2181.7L413.6 2188.5L415.5 2192L417.5 2195.3L419.5 2199.5L421.4 2202.5L423.3 2204.6L425.3 2207.1L427.3 2207.1L429.3 2209.4L432.4 2209.7L434.1 2208.7L436 2208.7L438 2210.4L440.3 2209.5L442.8 2210.9L445.6 2211L448.8 2209.7L450.9 2210.8L453.3 2209.6L455.8 2210.3L458.4 2209.7L461.2 2211L464 2209.6L466.8 2211.4L469.6 2210.2L472.4 2210L475.1 2209.5L477.6 2210L480 2209.7L482.7 2210.1L485.2 2211.9L487.6 2211.2L489.9 2210.1L492.2 2210.2L494.5 2211.1L496.7 2212.1L498.9 2211.3L501.2 2211.2L503.5 2211.9L505.8 2210.8L508.2 2211L510.5 2211.9L512.9 2212.6L515.2 2211.9L517.6 2211.6L519.9 2212.2L522.3 2212.8L524.6 2211.6L527 2211.5L529.3 2212.3L531.7 2212L534 2211.7L536.4 2211.9L538.7 2213.3L541.1 2211.9L543.4 2212.3L545.8 2213.7L548.1 2212.4L550.5 2213.7L552.9 2213.5L555.4 2212.8L558 2212.7L560.5 2211.8L563.1 2212.6L565.6 2212.9L567.9 2213.9L570.2 2212L572.2 2213.7L574 2214L577.4 2213.9L579.8 2213.2L581.7 2213.8L583.3 2213.6L586 2215.2L588 2218.4L590.4 2220.4L592.7 2219.1L595.2 2218.1L597.4 2214.8L598.2 2213.3L601 2213.7L602.6 2211.8L604.7 2213.1L607.1 2212.3L609.7 2212.4L612.5 2213.9L615.3 2212.8L618.2 2213.1L620.9 2213.9L623.1 2213.3L625.4 2212.1L627.7 2212.4L630.1 2213.5L632.5 2212.3L634.9 2211.8L637.3 2212.1L639.7 2212L642.1 2212.3L644.4 2211.5L646.8 2212.9L649.1 2213.1L651.5 2211.3L653.8 2212L656.2 2211.2L658.5 2212L660.9 2211L663.2 2210.3L665.6 2210.2L667.9 2210.1L670.3 2210.5L672.6 2211.3L675 2210.6L677.3 2210.1L679.6 2209.5L682 2210.8L684.3 2210.8L686.7 2208.9L689 2209.1L691.4 2209.1L693.7 2208.7L696.1 2207.8L698.4 2209.1L700.8 2208.4L703.1 2207L705.5 2206.7L707.8 2207.9L710.2 2207.2L712.5 2206.8L714.9 2207.6L717.2 2205.7L719.6 2207.6L721.9 2207.2L724.3 2206.1L726.6 2205.8L729 2205.1L731.3 2206.1L733.7 2205.7L736 2205.1L738.4 2205.6L740.8 2204.2L743.2 2204.6L745.7 2205.7L748.2 2203.9L750.6 2205.4L753.1 2203.9L755.4 2204.6L757.7 2204.6L759.8 2202.9L761.9 2204.5L765.1 2202.7L768.1 2202.8L771 2203.1L773.5 2203L775.6 2204L777.1 2202.1" stroke="#0a0a0a" stroke-width="3.8"/>
</g>
<g filter="url(#b2)">
<g fill="#ff1a1a" stroke="none"><rect x="704.1" y="1865.8" width="2.8" height="45.4"/><path d="M705.5 1866.3L701.9 1874.3L709.1 1874.3Z"/><path d="M705.5 1910.7L701.9 1902.7L709.1 1902.7Z"/></g>
<g fill="#1a1aff" stroke="none"><rect x="726.5" y="1865.8" width="2.8" height="81.3"/><path d="M727.9 1866.3L724.3 1874.3L731.5 1874.3Z"/><path d="M727.9 1946.6L724.3 1938.6L731.5 1938.6Z"/></g>
<g fill="#00f01a" stroke="none"><rect x="748.8" y="1865.8" width="3.6" height="86"/><path d="M750.6 1866.3L746.6 1874.3L754.6 1874.3Z"/><path d="M750.6 1951.3L746.6 1943.3L754.6 1943.3Z"/></g>
<g fill="#0a0a0a" stroke="none"><rect x="769.6" y="1865.8" width="2" height="337.2"/><path d="M770.6 1866.3L767.1 1874.3L774.1 1874.3Z"/><path d="M770.6 2202.5L767.1 2194.5L774.1 2194.5Z"/></g>
</g>
<g fill="#111" stroke="#111" stroke-width="0.45" font-size="36" filter="url(#b2)">
<text transform="translate(270.4 1871.3) scale(1.03 1)" text-anchor="end">100</text>
<text transform="translate(259.8 1933.3) scale(1.03 1)" text-anchor="end">90</text>
<text transform="translate(259.8 2000.3) scale(1.03 1)" text-anchor="end">80</text>
<text transform="translate(259.8 2065.6) scale(1.03 1)" text-anchor="end">70</text>
<text transform="translate(259.8 2127.6) scale(1.03 1)" text-anchor="end">60</text>
<text transform="translate(259.8 2189.5) scale(1.03 1)" text-anchor="end">50</text>
<text transform="translate(259.8 2251.3) scale(1.03 1)" text-anchor="end">40</text>
<text transform="translate(327.3 2277.5) scale(1.04 1)" text-anchor="middle">200</text>
<text transform="translate(441.9 2277.5) scale(1.04 1)" text-anchor="middle">400</text>
<text transform="translate(557.5 2277.5) scale(1.04 1)" text-anchor="middle">600</text>
<text transform="translate(672 2277.5) scale(1.04 1)" text-anchor="middle">800</text>
<text transform="translate(793.6 2277.5) scale(1.04 1)" text-anchor="middle">1000</text>
</g>
<g filter="url(#b2)">
<text x="790" y="1897.6" font-size="32" fill="#ff1a1a" stroke="#ff1a1a" stroke-width="0.9">7%</text>
<text x="780.5" y="1941" font-size="32" fill="#1a1aff" stroke="#1a1aff" stroke-width="0.9">13%</text>
<text x="781" y="1992.7" font-size="31" fill="#00f01a" stroke="#00f01a" stroke-width="0.4" font-weight="bold">14%</text>
<text x="779.5" y="2098.4" font-size="32" fill="#0a0a0a" stroke="#0a0a0a" stroke-width="0.9">54%</text>
</g>
<text transform="translate(454 1830.3) scale(1.045 1)" font-size="51.8" fill="#000">NP-CMD</text>
<text transform="translate(489 2343.3) scale(1.045 1)" font-size="51.8" fill="#111" filter="url(#b2)">T (ºC)</text>
<text transform="translate(167.1 2023.3) scale(1.15 1) rotate(-90)" text-anchor="middle" font-size="50.3" fill="#111" filter="url(#b2)">Weight (%)</text>
</g>
<g>
<g filter="url(#b2)">
<rect x="994.4" y="1857.6" width="584.6" height="385.3" fill="none" stroke="#777" stroke-width="2.3"/>
<path d="M994.4 1857.6V2242.9" stroke="#555" stroke-width="3" fill="none"/>
<path d="M993.4 2242.9H1580" stroke="#555" stroke-width="2.6" fill="none"/>
<path d="M994.4 1889.7h4.5M994.4 1921.8h8.5M994.4 1953.8h4.5M994.4 1985.7h8.5M994.4 2017.8h4.5M994.4 2049.8h8.5M994.4 2082h4.5M994.4 2114.2h8.5M994.4 2146.2h4.5M994.4 2178.3h8.5M994.4 2210.6h4.5M994.4 2242.9h8.5M1052.2 2242.9v-9M1110.3 2242.9v-4M1168.5 2242.9v-9M1226.9 2242.9v-4M1285.3 2242.9v-9M1343.3 2242.9v-4M1401.4 2242.9v-9M1459.7 2242.9v-4M1517.9 2242.9v-9" stroke="#4a4a4a" stroke-width="2.6" fill="none"/>
</g>
<g fill="none" stroke-linejoin="round" stroke-linecap="butt" filter="url(#b2)">
<path d="M994.4 1858.8C998.3 1858.9 1009.7 1858.5 1017.4 1859.3C1025.2 1860 1033.9 1861.8 1040.9 1863.5C1048 1865.2 1054.2 1867 1059.7 1869.4C1065.2 1871.7 1069.1 1874.1 1073.8 1877.6C1078.5 1881.1 1083.6 1886.2 1087.9 1890.5C1092.2 1894.8 1095.7 1899.1 1099.6 1903.4C1103.6 1907.7 1107.5 1912.4 1111.4 1916.3C1115.3 1920.3 1119.2 1923.8 1123.1 1926.9C1127.1 1930 1131 1932.6 1134.9 1935.1C1138.8 1937.7 1142.7 1940 1146.6 1942.2C1150.5 1944.3 1154.5 1946.1 1158.4 1948C1162.3 1950 1166.2 1952 1170.1 1953.9C1174 1955.9 1177.9 1957.8 1181.9 1959.8C1185.8 1961.7 1190.5 1963.7 1193.6 1965.7C1196.7 1967.6 1198.7 1969.4 1200.6 1971.5C1202.6 1973.7 1203.8 1975.8 1205.3 1978.6C1206.9 1981.3 1207.6 1983.7 1210 1988C1212.5 1992.3 1217.2 2000.5 1220 2004.4C1222.8 2008.3 1224.3 2008.5 1227 2011.5C1229.8 2014.4 1233.7 2018.9 1236.4 2022C1239.2 2025.2 1241.2 2027.5 1243.5 2030.3C1245.8 2033 1248.7 2036.1 1250.1 2038.5C1251.4 2040.8 1251.2 2042.2 1251.5 2044.3C1251.7 2046.5 1251.7 2047.5 1251.7 2051.4C1251.7 2055.3 1251.6 2064.2 1251.7 2067.8C1251.8 2071.4 1251.6 2071.8 1252.4 2073C1253.2 2074.2 1252 2074.6 1256.4 2075.1C1260.8 2075.6 1269.1 2075.4 1278.7 2076.1C1288.3 2076.7 1304.2 2078.3 1314 2079.1C1323.7 2079.9 1329.6 2079.9 1337.4 2080.8C1345.3 2081.6 1353.1 2082.9 1360.9 2084.3C1368.8 2085.6 1378.2 2087.7 1384.4 2089C1390.7 2090.3 1394.6 2091.4 1398.5 2092C1402.4 2092.7 1398.5 2092.6 1407.9 2092.7C1417.3 2092.8 1438.2 2092.8 1454.9 2092.7C1471.5 2092.7 1498.9 2092.3 1507.7 2092.3" stroke="#00f01a" stroke-width="4.2"/>
<path d="M994.4 1858.8C998.3 1858.8 1009.7 1858.2 1017.4 1858.8C1025.2 1859.4 1033.9 1860.9 1040.9 1862.3C1048 1863.7 1054.2 1865.2 1059.7 1867C1065.2 1868.8 1069.1 1870.1 1073.8 1872.9C1078.5 1875.6 1083.6 1879.5 1087.9 1883.5C1092.2 1887.4 1095.7 1891.9 1099.6 1896.4C1103.6 1900.9 1107.5 1906.4 1111.4 1910.5C1115.3 1914.6 1119.2 1918 1123.1 1921C1127.1 1924.1 1131 1926.4 1134.9 1928.8C1138.8 1931.1 1142.7 1933.2 1146.6 1935.1C1150.5 1937.1 1154.5 1939 1158.4 1940.5C1162.3 1942 1166.2 1943.1 1170.1 1944.1C1174 1945 1176 1945.4 1181.9 1946.2C1187.7 1946.9 1199 1948 1205.3 1948.5C1211.7 1949 1209.7 1948.9 1220 1949.2C1230.3 1949.5 1255.2 1949.9 1267 1950.4C1278.7 1950.9 1282.6 1951.7 1290.5 1952.3C1298.3 1952.9 1306.1 1953.2 1314 1953.9C1321.8 1954.7 1329.6 1955.6 1337.4 1956.7C1345.3 1957.9 1353.9 1959.5 1360.9 1961C1368 1962.5 1374.2 1964.5 1379.7 1965.7C1385.2 1966.8 1389.1 1967.5 1393.8 1968C1398.5 1968.5 1397.7 1968.6 1407.9 1968.7C1418.1 1968.8 1438.2 1968.8 1454.9 1968.7C1471.5 1968.7 1498.9 1968.5 1507.7 1968.5" stroke="#1a1aff" stroke-width="3"/>
<path d="M994.4 1858.7L996 1859.2L998 1859L1000.4 1858.3L1003 1858.8L1005.9 1858.5L1008.9 1857.8L1011.9 1858.7L1014.7 1858L1017.4 1858.1L1019.8 1858.4L1022.1 1858.7L1024.5 1858.5L1026.8 1859.3L1029.2 1859.8L1031.5 1859.8L1033.9 1860.4L1036.2 1860.6L1038.6 1861.1L1040.9 1860.8L1043.3 1861.4L1045.7 1861.8L1048.1 1861.9L1050.5 1863.2L1053 1863.2L1055.4 1863.1L1057.7 1864.1L1060 1864.4L1062.3 1864.6L1064.4 1865L1067 1865.9L1069.5 1866.1L1071.9 1867.2L1074.3 1867.8L1076.5 1868L1078.8 1869.5L1081 1869.3L1083.2 1870.2L1085.7 1871.8L1088.2 1872.2L1090.7 1873.5L1093.1 1874.7L1095.4 1875.6L1097.6 1876.7L1099.6 1877.6L1102.3 1878.7L1104.7 1879.2L1106.9 1880.9L1109.1 1881.2L1111.4 1881.8L1113.7 1883.1L1116.1 1884.4L1118.4 1885.1L1120.8 1885.7L1123.1 1886.5L1125.5 1886.9L1127.8 1887.9L1130.2 1888.1L1132.5 1888.4L1134.9 1889L1137.2 1889.4L1139.6 1890.5L1141.9 1891.2L1144.3 1891.5L1146.6 1891.4L1148.8 1891.6L1150.8 1892.7L1152.8 1892.4L1155.3 1892.4L1158.4 1893.2L1160.2 1893.4L1162.3 1893.5L1164.6 1893.7L1166.9 1893.8L1169.4 1894.2L1171.9 1894.4L1174.4 1894.9L1177 1894.9L1179.5 1895.1L1181.9 1895.9L1184.2 1895.3L1186.7 1896.2L1189.2 1896.1L1191.7 1896.7L1194.2 1896.8L1196.6 1896.9L1198.9 1897.2L1201.2 1897L1203.4 1896.9L1205.3 1897.8L1208.2 1897.4L1210.6 1897.3L1212.7 1897.9L1214.8 1897.6L1217.1 1897L1220 1897.6L1222 1897.3L1224.1 1898.1L1226.4 1897.7L1228.8 1898.5L1231.2 1898.3L1233.7 1898L1236.2 1898.5L1238.6 1899.3L1241.1 1899.2L1243.5 1898.8L1245.9 1899.3L1248.3 1899.4L1250.8 1899.5L1253.3 1900.2L1255.8 1900.5L1258.3 1900.3L1260.6 1900.9L1262.9 1901.4L1265 1901.7L1267 1901.2L1269.9 1901.5L1272.5 1902.7L1274.9 1902.5L1277.1 1902.6L1279.1 1903.5L1281.1 1903.2L1283.4 1903.7L1285.2 1903.4L1287.2 1902.8L1290.5 1902.9L1292.3 1902.8L1294.4 1903.3L1296.7 1902.9L1299.2 1903L1301.8 1903.6L1304.4 1903.2L1307 1903.4L1309.5 1903.6L1311.8 1903.3L1314 1903.7L1316.8 1904.4L1319.4 1904.9L1322 1904.6L1324.4 1905.1L1326.6 1905L1328.6 1905.6L1330.4 1905.6L1332.8 1905.6L1334.2 1904.8L1337.4 1904.4L1339.1 1905L1341.1 1904.8L1343.3 1904.4L1345.7 1904.1L1348.2 1904.1L1350.7 1904.1L1353.4 1904.2L1356 1904.6L1358.5 1904.6L1360.9 1904.2L1363.2 1905L1365.2 1904.8L1367.2 1904.9L1369.2 1905.1L1371.2 1904.5L1373.3 1905.1L1375.6 1905.2L1378.2 1905.2L1381.1 1904.4L1384.4 1905.2L1386.3 1905.3L1388.2 1904.4L1390.2 1905.2L1392.3 1905.2L1394.4 1904.4L1396.5 1905.1L1398.7 1905.1L1401 1905.1L1403.4 1904.4L1405.8 1905.3L1408.3 1904.4L1410.9 1904.5L1413.6 1905.3L1416.3 1904.8L1419.2 1904.5L1422.1 1904.8L1425.1 1905L1428.2 1904.6L1431.4 1905.2L1433.5 1905L1435.8 1904.7L1438.2 1904.7L1440.7 1904.4L1443.3 1905.3L1446 1904.6L1448.8 1905.2L1451.6 1904.8L1454.5 1904.7L1457.5 1904.4L1460.5 1904.7L1463.5 1904.2L1466.5 1904.6L1469.5 1904.7L1472.5 1905L1475.5 1904.3L1478.4 1904.2L1481.3 1904.8L1484.1 1904.1L1486.8 1904.2L1489.5 1904.5L1492.1 1904.4L1494.5 1904.9L1496.9 1904L1499.1 1904.8L1501.1 1904.4L1503.1 1904L1504.8 1904.1L1506.4 1904.8L1507.7 1904" stroke="#0a0a0a" stroke-width="3.4"/>
<path d="M994.4 1858.8C998.3 1858.7 1009.7 1858 1017.4 1858.3C1025.2 1858.6 1033.1 1859.6 1040.9 1860.7C1048.8 1861.7 1057.4 1863.1 1064.4 1864.7C1071.5 1866.2 1077.3 1868.1 1083.2 1870.1C1089.1 1872 1095 1874.6 1099.6 1876.4C1104.3 1878.2 1107.5 1879.9 1111.4 1881.1C1115.3 1882.3 1119.2 1883 1123.1 1883.7C1127.1 1884.4 1129 1884.8 1134.9 1885.3C1140.8 1885.9 1150.5 1886.4 1158.4 1887C1166.2 1887.5 1171.6 1888.2 1181.9 1888.6C1192.1 1889 1209.7 1888.9 1220 1889.3C1230.3 1889.8 1235.7 1890.6 1243.5 1891.2C1251.3 1891.8 1259.1 1892.5 1267 1893.1C1274.8 1893.7 1282.6 1894.1 1290.5 1894.7C1298.3 1895.4 1306.1 1896.1 1314 1897.1C1321.8 1898.1 1329.6 1899.5 1337.4 1900.6C1345.3 1901.7 1353.1 1902.7 1360.9 1903.4C1368.8 1904.1 1372.7 1904.5 1384.4 1904.8C1396.2 1905.1 1410.8 1905.3 1431.4 1905.3C1451.9 1905.3 1495 1904.7 1507.7 1904.6" stroke="#ff1a1a" stroke-width="3"/>
</g>
<g filter="url(#b2)">
<g fill="#0a0a0a" stroke="none"><rect x="1434.7" y="1857.6" width="2.8" height="46.8"/><path d="M1436.1 1858.1L1432.5 1866.1L1439.7 1866.1Z"/><path d="M1436.1 1903.9L1432.5 1895.9L1439.7 1895.9Z"/></g>
<g fill="#ff1a1a" stroke="none"><rect x="1454.2" y="1857.6" width="2.8" height="47.2"/><path d="M1455.6 1858.1L1452 1866.1L1459.2 1866.1Z"/><path d="M1455.6 1904.3L1452 1896.3L1459.2 1896.3Z"/></g>
<g fill="#1a1aff" stroke="none"><rect x="1475.4" y="1857.6" width="2.8" height="110.9"/><path d="M1476.8 1858.1L1473.2 1866.1L1480.4 1866.1Z"/><path d="M1476.8 1968L1473.2 1960L1480.4 1960Z"/></g>
<g fill="#00f01a" stroke="none"><rect x="1495.4" y="1857.6" width="3.6" height="235"/><path d="M1497.2 1858.1L1493.2 1866.1L1501.2 1866.1Z"/><path d="M1497.2 2092.1L1493.2 2084.1L1501.2 2084.1Z"/></g>
</g>
<g fill="#111" stroke="#111" stroke-width="0.45" font-size="36" filter="url(#b2)">
<text transform="translate(987 1874.6) scale(1.03 1)" text-anchor="end">100</text>
<text transform="translate(977.9 1935.9) scale(1.03 1)" text-anchor="end">90</text>
<text transform="translate(977.9 2002.7) scale(1.03 1)" text-anchor="end">80</text>
<text transform="translate(977.9 2069) scale(1.03 1)" text-anchor="end">70</text>
<text transform="translate(977.9 2129.8) scale(1.03 1)" text-anchor="end">60</text>
<text transform="translate(977.9 2193.3) scale(1.03 1)" text-anchor="end">50</text>
<text transform="translate(977.9 2254.4) scale(1.03 1)" text-anchor="end">40</text>
<text transform="translate(1055 2278.6) scale(1.04 1)" text-anchor="middle">200</text>
<text transform="translate(1170.2 2278.6) scale(1.04 1)" text-anchor="middle">400</text>
<text transform="translate(1285 2278.6) scale(1.04 1)" text-anchor="middle">600</text>
<text transform="translate(1400.2 2278.6) scale(1.04 1)" text-anchor="middle">800</text>
<text transform="translate(1524.7 2278.6) scale(1.04 1)" text-anchor="middle">1000</text>
</g>
<g filter="url(#b2)">
<text x="1517" y="1897.6" font-size="32" fill="#0a0a0a" stroke="#0a0a0a" stroke-width="0.9">7%</text>
<text x="1517" y="1939.8" font-size="32" fill="#ff1a1a" stroke="#ff1a1a" stroke-width="0.9">7%</text>
<text x="1508.5" y="1982.1" font-size="32" fill="#1a1aff" stroke="#1a1aff" stroke-width="0.9">17%</text>
<text x="1507" y="2061.3" font-size="31" fill="#00f01a" stroke="#00f01a" stroke-width="0.4" font-weight="bold">37%</text>
</g>
<text transform="translate(1182 1830) scale(1.045 1)" font-size="51.8" fill="#000">NP-APS</text>
<text transform="translate(1211 2343) scale(1.045 1)" font-size="51.8" fill="#111" filter="url(#b2)">T (ºC)</text>
</g>
<g>
<g filter="url(#b2)">
<rect x="1703.4" y="1865.4" width="576.9" height="374" fill="none" stroke="#777" stroke-width="2.3"/>
<path d="M1703.4 1865.4V2239.4" stroke="#555" stroke-width="3" fill="none"/>
<path d="M1702.4 2239.4H2281.3" stroke="#555" stroke-width="2.6" fill="none"/>
<path d="M1703.4 1896.5h4.5M1703.4 1927.6h8.5M1703.4 1958.8h4.5M1703.4 1989.9h8.5M1703.4 2021.2h4.5M1703.4 2052.6h8.5M1703.4 2083.5h4.5M1703.4 2114.4h8.5M1703.4 2146.1h4.5M1703.4 2177.8h8.5M1703.4 2208.6h4.5M1703.4 2239.4h8.5M1761 2239.4v-9M1818.5 2239.4v-4M1876.1 2239.4v-9M1933.9 2239.4v-4M1991.7 2239.4v-9M2049.3 2239.4v-4M2106.9 2239.4v-9M2164.4 2239.4v-4M2222 2239.4v-9" stroke="#4a4a4a" stroke-width="2.6" fill="none"/>
</g>
<g fill="none" stroke-linejoin="round" stroke-linecap="butt" filter="url(#b2)">
<path d="M1703.4 1865.8C1708.3 1866 1723.9 1866 1732.7 1867C1741.6 1868 1750 1870.1 1756.2 1871.7C1762.5 1873.3 1765.6 1873.9 1770.3 1876.4C1775 1879 1780.1 1883.3 1784.4 1887C1788.7 1890.7 1792.2 1894.8 1796.2 1898.7C1800.1 1902.6 1804 1906.5 1807.9 1910.5C1811.8 1914.4 1815.7 1918.7 1819.6 1922.2C1823.6 1925.7 1827.5 1928.5 1831.4 1931.6C1835.3 1934.7 1839.2 1938.2 1843.1 1941C1847.1 1943.8 1851 1946.4 1854.9 1948.5C1858.8 1950.7 1862.7 1952 1866.6 1953.9C1870.5 1955.8 1874.5 1957.8 1878.4 1959.8C1882.3 1961.7 1885.5 1963.5 1890.1 1965.7C1894.7 1967.8 1901.4 1970.7 1906 1972.7C1910.6 1974.7 1914.2 1975.6 1917.7 1977.4C1921.3 1979.2 1924.4 1980.3 1927.1 1983.3C1929.9 1986.2 1931.8 1991.3 1934.2 1995C1936.5 1998.7 1938.5 2002.1 1941.2 2005.6C1944 2009.1 1948.5 2013.6 1950.6 2016.2C1952.8 2018.7 1953.4 2019.3 1954.2 2020.9C1954.9 2022.4 1954 2023.2 1955.3 2025.6C1956.7 2027.9 1960 2031.8 1962.4 2035C1964.7 2038.1 1967.1 2042.3 1969.4 2044.3C1971.8 2046.4 1974.3 2046.6 1976.5 2047.2C1978.6 2047.8 1981.1 2046.8 1982.3 2047.9C1983.6 2049 1981 2052.7 1984 2053.7C1986.9 2054.8 1989.5 2053.6 2000 2054.2C2010.4 2054.8 2033.2 2056.4 2046.9 2057.3C2060.6 2058.2 2070.4 2059.2 2082.2 2059.6C2093.9 2060 2103.7 2059.7 2117.4 2059.6C2131.1 2059.5 2150.7 2059.3 2164.4 2058.9C2178.1 2058.5 2192 2057.5 2199.6 2057.3C2207.2 2057 2208.4 2057.3 2210.2 2057.3" stroke="#00f01a" stroke-width="4.2"/>
<path d="M1703.4 1865.8C1708.3 1866 1723.9 1866 1732.7 1867C1741.6 1868 1748.4 1869.9 1756.2 1871.7C1764.1 1873.5 1773.5 1875.2 1779.7 1877.6C1786 1879.9 1789.1 1882.3 1793.8 1885.8C1798.5 1889.3 1804 1894.2 1807.9 1898.7C1811.8 1903.2 1814.2 1908.5 1817.3 1912.8C1820.4 1917.1 1823.6 1921.6 1826.7 1924.6C1829.8 1927.5 1831.4 1927.9 1836.1 1930.4C1840.8 1933 1849.8 1937.1 1854.9 1939.8C1860 1942.6 1862.7 1944.1 1866.6 1946.9C1870.5 1949.6 1874.8 1953.5 1878.4 1956.3C1881.9 1959 1883.2 1961.2 1887.8 1963.3C1892.4 1965.4 1895.1 1967.3 1906 1968.7C1916.9 1970.1 1937.3 1970.9 1953 1971.5C1968.6 1972.2 1984.3 1972.2 2000 1972.7C2015.6 1973.2 2035.2 1973.8 2046.9 1974.4C2058.7 1974.9 2062.6 1975.3 2070.4 1976.2C2078.2 1977.1 2086.1 1978.7 2093.9 1979.8C2101.7 1980.8 2109.6 1982.2 2117.4 1982.8C2125.2 1983.4 2133.1 1983.3 2140.9 1983.3C2148.7 1983.2 2152.8 1982.7 2164.4 1982.6C2175.9 1982.5 2202.5 1982.6 2210.2 1982.6" stroke="#1a1aff" stroke-width="3"/>
<path d="M1703.4 1865.8C1708.3 1866 1724.7 1865.8 1732.7 1867C1740.8 1868.2 1745.3 1871.1 1751.5 1872.9C1757.8 1874.6 1764.1 1876 1770.3 1877.6C1776.6 1879.1 1782.8 1880.7 1789.1 1882.3C1795.4 1883.8 1800.9 1885.2 1807.9 1887C1815 1888.7 1823.6 1891.2 1831.4 1892.8C1839.2 1894.5 1848.6 1896.1 1854.9 1897.1C1861.1 1898.1 1863.1 1898.3 1869 1898.7C1874.8 1899.2 1883.9 1899.4 1890.1 1899.7C1896.3 1899.9 1895.5 1899.8 1906 1900.1C1916.5 1900.4 1939.3 1901.5 1953 1901.5C1966.7 1901.6 1976.5 1900.5 1988.2 1900.6C2000 1900.7 2011.7 1901.4 2023.4 1902.2C2035.2 1903.1 2046.9 1904.7 2058.7 1905.8C2070.4 1906.8 2080.2 1907.9 2093.9 1908.6C2107.6 1909.3 2129.1 1909.5 2140.9 1910C2152.6 1910.5 2156.5 1910.9 2164.4 1911.6C2172.2 1912.4 2180.2 1914 2187.9 1914.7C2195.5 1915.4 2206.5 1915.5 2210.2 1915.6" stroke="#0a0a0a" stroke-width="3.2"/>
<path d="M1703.4 1865.8C1709.1 1865.8 1727.8 1865.2 1737.4 1865.8C1747 1866.4 1753.1 1868.2 1760.9 1869.4C1768.8 1870.5 1776.6 1871.3 1784.4 1872.9C1792.2 1874.4 1800.1 1877 1807.9 1878.8C1815.7 1880.5 1823.6 1882.4 1831.4 1883.5C1839.2 1884.5 1847.1 1884.7 1854.9 1885.1C1862.7 1885.5 1869.8 1885.5 1878.4 1885.8C1886.9 1886.1 1889.7 1886.5 1906 1887C1922.3 1887.4 1956.9 1888.2 1976.5 1888.6C1996 1889 2007.8 1888.9 2023.4 1889.3C2039.1 1889.8 2054.8 1890.7 2070.4 1891.2C2086.1 1891.7 2101.7 1892 2117.4 1892.1C2133.1 1892.3 2148.9 1892.1 2164.4 1892.1C2179.8 1892.2 2202.5 1892.5 2210.2 1892.6" stroke="#ff1a1a" stroke-width="3"/>
</g>
<g filter="url(#b2)">
<g fill="#ff1a1a" stroke="none"><rect x="2138.8" y="1865.4" width="2.8" height="25.8"/><path d="M2140.2 1865.9L2136.6 1873.9L2143.8 1873.9Z"/><path d="M2140.2 1890.7L2136.6 1882.7L2143.8 1882.7Z"/></g>
<g fill="#0a0a0a" stroke="none"><rect x="2160.7" y="1865.4" width="2.8" height="44.6"/><path d="M2162.1 1865.9L2158.5 1873.9L2165.7 1873.9Z"/><path d="M2162.1 1909.5L2158.5 1901.5L2165.7 1901.5Z"/></g>
<g fill="#1a1aff" stroke="none"><rect x="2181.8" y="1865.4" width="2.8" height="117.2"/><path d="M2183.2 1865.9L2179.6 1873.9L2186.8 1873.9Z"/><path d="M2183.2 1982.1L2179.6 1974.1L2186.8 1974.1Z"/></g>
<g fill="#00f01a" stroke="none"><rect x="2203" y="1865.4" width="3.6" height="191.9"/><path d="M2204.8 1865.9L2200.8 1873.9L2208.8 1873.9Z"/><path d="M2204.8 2056.8L2200.8 2048.8L2208.8 2048.8Z"/></g>
</g>
<g fill="#111" stroke="#111" stroke-width="0.45" font-size="36" filter="url(#b2)">
<text transform="translate(1697.6 1872.1) scale(1.03 1)" text-anchor="end">100</text>
<text transform="translate(1687 1933.8) scale(1.03 1)" text-anchor="end">90</text>
<text transform="translate(1687 2000.4) scale(1.03 1)" text-anchor="end">80</text>
<text transform="translate(1687 2066.1) scale(1.03 1)" text-anchor="end">70</text>
<text transform="translate(1687 2126.8) scale(1.03 1)" text-anchor="end">60</text>
<text transform="translate(1687 2189.8) scale(1.03 1)" text-anchor="end">50</text>
<text transform="translate(1687 2250.8) scale(1.03 1)" text-anchor="end">40</text>
<text transform="translate(1758.6 2278.2) scale(1.04 1)" text-anchor="middle">200</text>
<text transform="translate(1873.7 2278.2) scale(1.04 1)" text-anchor="middle">400</text>
<text transform="translate(1989.4 2278.2) scale(1.04 1)" text-anchor="middle">600</text>
<text transform="translate(2103.8 2278.2) scale(1.04 1)" text-anchor="middle">800</text>
<text transform="translate(2225.5 2278.2) scale(1.04 1)" text-anchor="middle">1000</text>
</g>
<g filter="url(#b2)">
<text x="2220.5" y="1896.4" font-size="32" fill="#ff1a1a" stroke="#ff1a1a" stroke-width="0.9">4%</text>
<text x="2220.5" y="1941" font-size="32" fill="#0a0a0a" stroke="#0a0a0a" stroke-width="0.9">8%</text>
<text x="2212.5" y="1992.7" font-size="32" fill="#1a1aff" stroke="#1a1aff" stroke-width="0.9">19%</text>
<text x="2211.5" y="2040.9" font-size="31" fill="#00f01a" stroke="#00f01a" stroke-width="0.4" font-weight="bold">31%</text>
</g>
<text transform="translate(1873 1830.4) scale(0.972 1)" font-size="51.8" fill="#000">NP-DMSA</text>
<text transform="translate(1919.5 2342) scale(1.045 1)" font-size="51.8" fill="#111" filter="url(#b2)">T (ºC)</text>
</g>
</svg></body></html>
